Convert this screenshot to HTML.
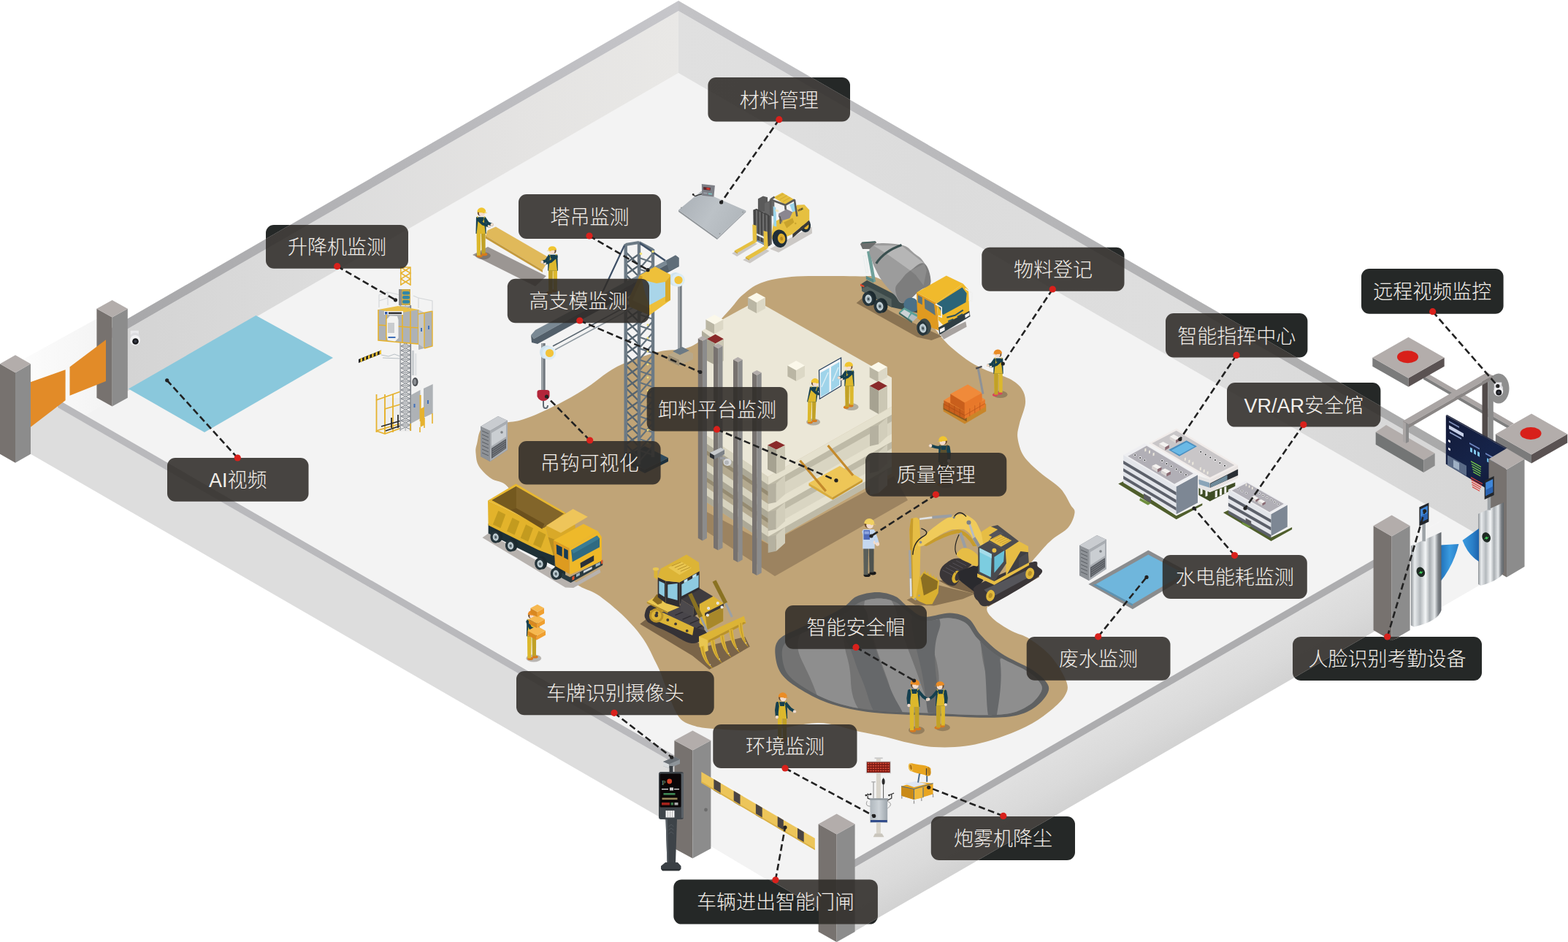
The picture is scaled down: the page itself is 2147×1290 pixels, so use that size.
<!DOCTYPE html>
<html lang="zh"><head><meta charset="utf-8"><title>智慧工地</title>
<style>html,body{margin:0;padding:0;background:#fff;}body{width:2147px;height:1290px;overflow:hidden;font-family:"Liberation Sans",sans-serif;}svg{display:block}</style>
</head><body>
<svg width="2147" height="1290" viewBox="0 0 2147 1290">
<defs>
<linearGradient id="gNW" gradientUnits="userSpaceOnUse" x1="175" y1="0" x2="929" y2="0"><stop offset="0" stop-color="#d4d4d4"/><stop offset="0.35" stop-color="#dcdcdc"/><stop offset="0.7" stop-color="#e4e3e2"/><stop offset="1" stop-color="#e9e8e6"/></linearGradient>
<linearGradient id="gNE" gradientUnits="userSpaceOnUse" x1="929" y1="0" x2="2040" y2="0"><stop offset="0" stop-color="#e0e0e0"/><stop offset="0.3" stop-color="#dcdcdc"/><stop offset="0.6" stop-color="#dedede"/><stop offset="1" stop-color="#d6d6d6"/></linearGradient>
<linearGradient id="gLG" gradientUnits="userSpaceOnUse" x1="30" y1="0" x2="140" y2="0"><stop offset="0" stop-color="#fcfcfc"/><stop offset="1" stop-color="#f4f4f4"/></linearGradient>
<linearGradient id="gRG" gradientUnits="userSpaceOnUse" x1="2010" y1="760" x2="2120" y2="800"><stop offset="0" stop-color="#f3f3f3"/><stop offset="1" stop-color="#ffffff"/></linearGradient>
<linearGradient id="gNWs" gradientUnits="userSpaceOnUse" x1="175" y1="0" x2="929" y2="0"><stop offset="0" stop-color="#a8a8aa"/><stop offset="0.5" stop-color="#b6b6b9"/><stop offset="1" stop-color="#c6c6ca"/></linearGradient>
<linearGradient id="gNEs" gradientUnits="userSpaceOnUse" x1="929" y1="0" x2="2040" y2="0"><stop offset="0" stop-color="#c3c3c6"/><stop offset="0.5" stop-color="#b4b4b6"/><stop offset="1" stop-color="#a8a8a8"/></linearGradient>
<linearGradient id="gScr" gradientUnits="userSpaceOnUse" x1="1980" y1="570" x2="2060" y2="670"><stop offset="0" stop-color="#131a38"/><stop offset="0.6" stop-color="#16244a"/><stop offset="1" stop-color="#101830"/></linearGradient>
<linearGradient id="gScale" gradientUnits="userSpaceOnUse" x1="930" y1="270" x2="1015" y2="320"><stop offset="0" stop-color="#aab0b6"/><stop offset="0.5" stop-color="#bcc2c7"/><stop offset="1" stop-color="#aeb4b9"/></linearGradient>
<linearGradient id="gEnv" gradientUnits="userSpaceOnUse" x1="1191" y1="0" x2="1216" y2="0"><stop offset="0" stop-color="#aeb6bc"/><stop offset="0.5" stop-color="#cdd3d8"/><stop offset="1" stop-color="#9aa2a9"/></linearGradient>
<linearGradient id="gSW" gradientUnits="objectBoundingBox" x1="0" y1="0" x2="0" y2="1"><stop offset="0" stop-color="#dadada"/><stop offset="1" stop-color="#e4e4e4"/></linearGradient>
<linearGradient id="gSE" gradientUnits="userSpaceOnUse" x1="1500" y1="997" x2="1538" y2="1063"><stop offset="0" stop-color="#e0e0e0"/><stop offset="0.55" stop-color="#dadada"/><stop offset="1" stop-color="#d2d2d2"/></linearGradient>
<linearGradient id="gT2024" gradientUnits="userSpaceOnUse" x1="2024" y1="0" x2="2059" y2="0"><stop offset="0" stop-color="#8d9296"/><stop offset="0.12" stop-color="#e9ecee"/><stop offset="0.3" stop-color="#b4b9bd"/><stop offset="0.48" stop-color="#f4f6f7"/><stop offset="0.62" stop-color="#a9aeb2"/><stop offset="0.78" stop-color="#e6e9eb"/><stop offset="0.9" stop-color="#7d8287"/><stop offset="1" stop-color="#5f6469"/></linearGradient>
<linearGradient id="gFan1" gradientUnits="userSpaceOnUse" x1="1972" y1="0" x2="1998" y2="0"><stop offset="0" stop-color="#1f6fb8"/><stop offset="0.5" stop-color="#3a9be0"/><stop offset="1" stop-color="#2a7fc8"/></linearGradient>
<linearGradient id="gFan2" gradientUnits="userSpaceOnUse" x1="2002" y1="0" x2="2026" y2="0"><stop offset="0" stop-color="#3a9be0"/><stop offset="0.6" stop-color="#2a7fc8"/><stop offset="1" stop-color="#1c5fa8"/></linearGradient>
<linearGradient id="gT1932" gradientUnits="userSpaceOnUse" x1="1932" y1="0" x2="1973.5" y2="0"><stop offset="0" stop-color="#8d9296"/><stop offset="0.12" stop-color="#e9ecee"/><stop offset="0.3" stop-color="#b4b9bd"/><stop offset="0.48" stop-color="#f4f6f7"/><stop offset="0.62" stop-color="#a9aeb2"/><stop offset="0.78" stop-color="#e6e9eb"/><stop offset="0.9" stop-color="#7d8287"/><stop offset="1" stop-color="#5f6469"/></linearGradient>
<clipPath id="siteclip"><polygon points="929.0,1.0 2147.0,704.2 2147.0,805.0 2075.0,850.0 1935.0,800.0 1930.0,867.0 1905.6,877.0 1880.0,867.0 1880.0,865.7 1171.0,1275.0 1145.6,1290.0 1121.0,1275.0 1121.0,1244.0 972.8,1158.0 972.8,1161.0 948.4,1175.0 923.3,1161.0 923.3,1130.5 42.0,621.7 21.0,633.5 0.0,621.0 0.0,498.0 21.0,486.0 42.0,499.0 42.0,523.0 132.0,470.0 132.0,423.0 153.6,411.0 175.0,422.0 175.0,436.3"/></clipPath>
<clipPath id="outclip"><path clip-rule="evenodd" d="M-10,-10H2160V1300H-10Z M929.0,1.0 L2147.0,704.2 L2147.0,805.0 L2075.0,850.0 L1935.0,800.0 L1930.0,867.0 L1905.6,877.0 L1880.0,867.0 L1880.0,865.7 L1171.0,1275.0 L1145.6,1290.0 L1121.0,1275.0 L1121.0,1244.0 L972.8,1158.0 L972.8,1161.0 L948.4,1175.0 L923.3,1161.0 L923.3,1130.5 L42.0,621.7 L21.0,633.5 L0.0,621.0 L0.0,498.0 L21.0,486.0 L42.0,499.0 L42.0,523.0 L132.0,470.0 L132.0,423.0 L153.6,411.0 L175.0,422.0 L175.0,436.3 Z"/></clipPath>
</defs>
<polygon points="132.4,436.4 30.0,493.0 42.0,535.0 79.0,546.9 116.3,568.4 175.0,535.3 132.4,545.0" fill="url(#gLG)" />
<polygon points="1930.0,738.1 2045.0,671.7 2045.0,790.4 1930.0,856.8" fill="#f3f3f3" />
<polygon points="929.0,100.0 1982.0,707.9 1170.4,1176.6 116.3,568.4" fill="#f3f3f3" />
<polygon points="948.0,1048.6 1170.4,1176.6 1146.0,1262.0 948.0,1143.7" fill="#f3f3f3" />
<polygon points="929.0,15.0 929.0,100.0 150.0,549.8 150.0,464.8" fill="url(#gNW)" />
<polygon points="929.0,15.0 929.0,100.0 2045.0,744.3 2045.0,659.3" fill="url(#gNE)" />
<polygon points="929.0,1.0 150.0,450.8 150.0,464.8 929.0,15.0" fill="url(#gNWs)" />
<polygon points="929.0,1.0 2060.0,654.0 2045.0,659.3 929.0,15.0" fill="url(#gNEs)" />
<polygon points="176.0,532.6 350.4,432.0 456.0,490.0 280.0,592.0" fill="#8ac8dc" />
<path d="M1001.8,421.0C1007.9,414.2 1010.0,409.6 1016.7,404.0C1023.4,398.4 1030.7,391.6 1041.9,387.4C1053.1,383.2 1067.4,380.6 1083.7,379.0C1100.0,377.4 1123.7,378.1 1139.5,378.0C1155.3,377.9 1168.5,378.2 1178.6,378.5C1188.7,378.8 1190.6,376.4 1200.0,380.0C1209.4,383.6 1224.2,391.7 1235.0,400.0C1245.8,408.3 1255.8,419.5 1265.0,430.0C1274.2,440.5 1283.0,454.6 1290.0,462.8C1297.0,471.1 1300.5,474.0 1307.0,479.5C1313.5,485.0 1321.6,491.4 1329.0,496.0C1336.4,500.6 1342.8,503.6 1351.6,507.4C1360.4,511.2 1374.1,514.4 1382.0,518.6C1389.9,522.8 1395.3,526.9 1399.0,532.5C1402.7,538.1 1404.5,544.1 1404.0,552.0C1403.5,559.9 1397.8,572.1 1396.0,580.0C1394.2,587.9 1392.4,592.1 1393.4,599.5C1394.4,606.9 1396.7,616.7 1401.8,624.6C1406.9,632.5 1415.6,639.6 1424.0,647.0C1432.4,654.4 1445.0,661.6 1452.0,669.0C1459.0,676.4 1462.8,686.1 1466.0,691.6C1469.2,697.1 1472.0,696.9 1471.5,702.0C1471.0,707.1 1468.1,715.9 1463.0,722.0C1457.9,728.1 1447.3,733.1 1441.0,738.6C1434.7,744.1 1432.7,746.4 1425.0,755.0C1417.3,763.6 1404.2,779.5 1395.0,790.0C1385.8,800.5 1377.2,811.0 1370.0,818.0C1362.8,825.0 1353.3,827.1 1351.6,832.0C1349.9,836.9 1354.4,842.1 1360.0,847.4C1365.6,852.7 1376.7,859.4 1385.0,864.0C1393.3,868.6 1400.8,869.0 1410.0,875.0C1419.2,881.0 1431.6,890.2 1440.0,900.0C1448.4,909.8 1457.5,925.1 1460.4,934.0C1463.3,942.9 1461.8,946.4 1457.6,953.4C1453.4,960.4 1443.8,968.8 1435.0,975.8C1426.2,982.8 1416.6,989.3 1404.6,995.3C1392.5,1001.3 1376.7,1007.6 1362.7,1012.0C1348.8,1016.4 1334.9,1020.0 1320.9,1021.8C1307.0,1023.6 1291.6,1023.7 1279.0,1023.0C1266.4,1022.3 1256.7,1019.9 1245.5,1017.6C1234.3,1015.3 1224.1,1011.8 1212.0,1009.0C1199.9,1006.2 1188.3,1004.1 1173.0,1000.9C1157.7,997.7 1140.5,990.1 1120.0,990.0C1099.5,989.9 1073.9,998.7 1050.0,1000.0C1026.1,1001.3 994.0,999.2 976.7,998.0C959.4,996.8 954.0,995.3 946.0,992.5C938.0,989.7 934.2,988.1 929.0,981.0C923.8,973.9 919.2,960.2 915.0,950.0C910.8,939.8 907.2,927.8 904.0,920.0C900.8,912.2 899.0,909.5 895.8,903.0C892.6,896.5 889.2,888.4 884.6,881.0C880.0,873.6 874.5,866.1 868.0,858.6C861.5,851.1 853.9,843.4 845.5,836.0C837.1,828.6 826.9,820.0 817.6,814.0C808.3,808.0 799.3,807.3 789.7,800.0C780.1,792.7 771.6,785.0 760.0,770.0C748.4,755.0 730.8,727.2 720.0,710.0C709.2,692.8 702.9,675.6 695.0,666.5C687.1,657.4 679.0,660.0 672.5,655.3C666.0,650.6 659.3,644.1 655.8,638.5C652.3,632.9 652.1,626.9 651.6,621.8C651.1,616.7 650.9,614.5 653.0,608.0C655.1,601.5 654.2,588.1 664.0,582.7C673.8,577.3 696.3,580.0 711.6,575.8C726.9,571.6 741.1,564.8 756.0,557.6C770.9,550.4 786.1,541.8 801.0,532.5C815.9,523.2 828.8,510.2 845.5,501.8C862.2,493.4 886.1,486.0 901.0,482.0C915.9,478.0 925.7,480.3 935.0,478.0C944.3,475.7 949.5,473.5 957.0,468.0C964.5,462.5 972.5,452.8 980.0,445.0C987.5,437.2 995.7,427.8 1001.8,421.0Z" fill="#c0a477" />
<path d="M1061.4,894.8C1060.9,886.9 1061.9,880.9 1067.0,875.3C1072.1,869.7 1081.5,866.4 1092.0,861.4C1102.5,856.4 1119.3,850.1 1130.0,845.0C1140.7,839.9 1148.8,835.4 1156.0,830.7C1163.2,826.0 1165.5,820.0 1173.0,816.7C1180.5,813.4 1192.2,811.0 1201.0,811.0C1209.8,811.0 1219.0,813.4 1226.0,816.7C1233.0,820.0 1236.2,826.1 1242.7,830.7C1249.2,835.4 1255.3,843.1 1265.0,844.6C1274.7,846.1 1290.8,839.1 1301.0,839.6C1311.2,840.1 1319.5,842.4 1326.5,847.4C1333.5,852.4 1335.6,861.8 1343.0,869.7C1350.4,877.6 1359.3,886.9 1371.0,894.8C1382.7,902.7 1402.8,910.5 1413.0,917.0C1423.2,923.5 1428.8,928.9 1432.5,934.0C1436.2,939.1 1437.3,942.3 1435.0,947.9C1432.7,953.5 1425.9,962.0 1418.5,967.4C1411.1,972.8 1402.2,977.5 1390.6,980.0C1379.0,982.5 1367.4,982.7 1348.8,982.7C1330.2,982.7 1304.6,981.1 1279.0,980.0C1253.4,978.9 1218.2,978.4 1195.0,975.8C1171.8,973.2 1155.7,969.7 1139.5,964.6C1123.3,959.5 1109.3,952.0 1097.7,945.0C1086.1,938.0 1075.8,931.1 1069.8,922.7C1063.8,914.3 1061.9,902.7 1061.4,894.8Z" fill="#5f6162" />
<clipPath id="pitclip"><path d="M1070.8,897.5C1070.4,890.2 1071.3,884.6 1076.2,879.4C1081.0,874.2 1089.9,871.1 1099.9,866.5C1109.9,861.8 1125.9,856.0 1136.0,851.2C1146.1,846.4 1153.9,842.3 1160.7,837.9C1167.5,833.5 1169.7,827.9 1176.8,824.9C1184.0,821.8 1195.1,819.6 1203.5,819.6C1211.8,819.6 1220.6,821.8 1227.2,824.9C1233.8,827.9 1236.9,833.6 1243.1,837.9C1249.2,842.2 1255.0,849.4 1264.2,850.8C1273.5,852.2 1288.7,845.7 1298.5,846.2C1308.2,846.6 1316.0,848.8 1322.7,853.4C1329.3,858.1 1331.3,866.8 1338.3,874.2C1345.4,881.5 1353.9,890.2 1365.0,897.5C1376.0,904.8 1395.1,912.1 1404.8,918.2C1414.6,924.2 1419.9,929.2 1423.4,934.0C1426.9,938.8 1428.0,941.7 1425.8,946.9C1423.5,952.1 1417.1,960.1 1410.1,965.0C1403.0,970.0 1394.6,974.4 1383.6,976.8C1372.5,979.1 1361.5,979.3 1343.9,979.3C1326.2,979.3 1301.9,977.8 1277.5,976.8C1253.2,975.7 1219.8,975.2 1197.8,972.8C1175.7,970.5 1160.4,967.2 1145.0,962.4C1129.6,957.7 1116.4,950.7 1105.3,944.2C1094.3,937.7 1084.6,931.2 1078.8,923.5C1073.1,915.7 1071.3,904.9 1070.8,897.5Z"/></clipPath>
<g clip-path="url(#pitclip)">
<rect x="1050.0" y="800.0" width="400.0" height="200.0" fill="#737373" />
<path d="M1095.0,870.0C1103.0,848.7 1122.7,842.0 1140.0,850.0C1157.3,858.0 1152.0,870.7 1160.0,900.0C1168.0,929.3 1162.0,937.3 1170.0,960.0C1178.0,982.7 1198.0,981.0 1190.0,985.0C1182.0,989.0 1161.3,989.7 1140.0,975.0C1118.7,960.3 1122.0,958.0 1110.0,930.0C1098.0,902.0 1087.0,891.3 1095.0,870.0Z" fill="#8e8e8e" />
<path d="M1185.0,820.0C1190.3,805.3 1200.3,799.0 1215.0,815.0C1229.7,831.0 1227.5,846.7 1240.0,880.0C1252.5,913.3 1252.7,912.0 1262.0,940.0C1271.3,968.0 1282.2,973.0 1275.0,985.0C1267.8,997.0 1251.0,999.7 1235.0,985.0C1219.0,970.3 1225.7,960.7 1215.0,930.0C1204.3,899.3 1203.0,899.3 1195.0,870.0C1187.0,840.7 1179.7,834.7 1185.0,820.0Z" fill="#8e8e8e" />
<path d="M1290.0,845.0C1306.0,839.7 1320.3,835.3 1335.0,850.0C1349.7,864.7 1339.7,864.0 1345.0,900.0C1350.3,936.0 1369.7,962.3 1355.0,985.0C1340.3,1007.7 1308.7,1002.3 1290.0,985.0C1271.3,967.7 1289.0,950.7 1285.0,920.0C1281.0,889.3 1273.7,890.0 1275.0,870.0C1276.3,850.0 1274.0,850.3 1290.0,845.0Z" fill="#8e8e8e" />
<path d="M1375.0,900.0C1389.7,896.0 1402.7,911.7 1420.0,925.0C1437.3,938.3 1442.7,936.7 1440.0,950.0C1437.3,963.3 1428.7,965.7 1410.0,975.0C1391.3,984.3 1382.0,994.3 1370.0,985.0C1358.0,975.7 1363.7,962.7 1365.0,940.0C1366.3,917.3 1360.3,904.0 1375.0,900.0Z" fill="#8e8e8e" />
<path d="M1150.0,850.0C1154.0,834.0 1167.7,822.0 1180.0,830.0C1192.3,838.0 1185.9,850.7 1196.0,880.0C1206.1,909.3 1207.3,912.0 1218.0,940.0C1228.7,968.0 1239.5,973.0 1236.0,985.0C1232.5,997.0 1219.9,999.7 1205.0,985.0C1190.1,970.3 1190.7,955.3 1180.0,930.0C1169.3,904.7 1173.0,911.3 1165.0,890.0C1157.0,868.7 1146.0,866.0 1150.0,850.0Z" fill="#66686a" />
<path d="M1250.0,840.0C1255.6,817.3 1277.0,829.0 1285.0,845.0C1293.0,861.0 1279.2,862.7 1280.0,900.0C1280.8,937.3 1289.6,962.3 1288.0,985.0C1286.4,1007.7 1280.4,999.7 1274.0,985.0C1267.6,970.3 1270.4,968.7 1264.0,930.0C1257.6,891.3 1244.4,862.7 1250.0,840.0Z" fill="#66686a" />
<path d="M1340.0,860.0C1345.3,856.0 1361.6,861.7 1368.0,895.0C1374.4,928.3 1367.7,961.0 1364.0,985.0C1360.3,1009.0 1358.3,1005.0 1354.0,985.0C1349.7,965.0 1351.7,943.3 1348.0,910.0C1344.3,876.7 1334.7,864.0 1340.0,860.0Z" fill="#66686a" />
</g>
<polygon points="1883.7,591.8 1898.0,582.0 1964.7,620.8 1949.3,630.0" fill="#b3adab" />
<polygon points="1883.7,591.8 1949.3,630.0 1949.3,647.0 1883.7,608.8" fill="#737575" />
<polygon points="1949.3,630.0 1964.7,620.8 1964.7,637.8 1949.3,647.0" fill="#8c8c8c" />
<polygon points="1949.0,515.0 1955.0,511.5 2073.0,580.0 2067.0,583.5" fill="#aaa5a4" />
<polygon points="1949.0,515.0 2067.0,583.5 2067.0,588.0 1949.0,519.5" fill="#7e7e7e" />
<polygon points="1879.3,489.7 1928.5,517.7 1928.5,529.7 1879.3,501.7" fill="#7b7b7b" />
<polygon points="1977.7,489.7 1928.5,517.7 1928.5,529.7 1977.7,501.7" fill="#5a5252" />
<polygon points="1928.5,461.7 1977.7,489.7 1928.5,517.7 1879.3,489.7" fill="#b3adab" />
<ellipse cx="1927.5" cy="488.7" rx="14.5" ry="8.5" fill="#d8201a" />
<rect x="2029.5" y="514.0" width="7.7" height="130.0" fill="#524b4a" />
<rect x="2037.2" y="514.0" width="7.6" height="130.0" fill="#8b8b8b" />
<ellipse cx="2052.0" cy="532.0" rx="14.5" ry="20.5" fill="#8e8e8e" />
<polygon points="2029.0,514.0 2036.0,510.0 2044.0,514.5 1929.0,581.0 1921.0,576.5" fill="#aaa5a4" />
<polygon points="1921.0,576.5 1929.0,581.0 2044.0,514.5 2044.0,519.0 1929.0,586.0 1921.0,581.0" fill="#8a8685" />
<polygon points="1921.0,577.0 1925.0,579.5 1925.0,607.0 1921.0,604.5" fill="#a9a5a4" />
<polygon points="1925.0,579.5 1929.0,581.5 1929.0,605.0 1925.0,607.0" fill="#8a8a8a" />
<rect x="2045.8" y="523.6" width="10.4" height="5.9" fill="#e9e9ec" />
<ellipse cx="2051.7" cy="531.5" rx="6.2" ry="5.2" fill="#dcdce0" />
<circle cx="2051.7" cy="536.0" r="6.5" fill="#f2f2f4" />
<circle cx="2052.2" cy="537.5" r="4.0" fill="#17181c" />
<circle cx="2052.2" cy="537.5" r="1.8" fill="#3a3d48" />
<polygon points="2047.8,594.5 2097.0,622.5 2097.0,634.5 2047.8,606.5" fill="#7b7b7b" />
<polygon points="2146.2,594.5 2097.0,622.5 2097.0,634.5 2146.2,606.5" fill="#5a5252" />
<polygon points="2097.0,566.5 2146.2,594.5 2097.0,622.5 2047.8,594.5" fill="#b3adab" />
<ellipse cx="2096.0" cy="593.5" rx="14.5" ry="8.5" fill="#d8201a" />
<polygon points="1979.8,568.8 2062.0,614.5 2062.0,685.0 1979.8,635.6" fill="url(#gScr)" />
<polygon points="1979.8,568.8 1981.5,568.0 2063.5,613.5 2062.0,614.5" fill="#2a2f45" />
<polygon points="1984.0,576.3 1998.0,584.1 1998.0,586.1 1984.0,578.3" fill="#7e8db8" />
<polygon points="1984.0,582.3 2004.0,593.5 2004.0,598.5 1984.0,587.3" fill="#c9d2ea" />
<polygon points="1985.0,590.9 2001.0,599.8 2001.0,601.8 1985.0,592.9" fill="#8fa0c8" />
<polygon points="1983.0,601.8 1986.0,603.4 1986.0,606.4 1983.0,604.8" fill="#e8e8f0" />
<polygon points="1983.0,612.8 1986.0,614.4 1986.0,617.4 1983.0,615.8" fill="#e8e8f0" />
<polygon points="1982.0,623.2 2008.0,637.7 2008.0,651.7 1982.0,637.2" fill="#5a6a86" />
<polygon points="1990.0,629.7 1998.0,634.1 1998.0,644.1 1990.0,639.7" fill="#9fb0c4" />
<polygon points="2012.0,605.9 2026.0,613.7 2026.0,615.7 2012.0,607.9" fill="#6f86c0" />
<polygon points="2013.0,612.5 2016.0,614.1 2016.0,620.1 2013.0,618.5" fill="#7fc4e8" />
<polygon points="2018.0,615.2 2021.0,616.9 2021.0,622.9 2018.0,621.2" fill="#7fc4e8" />
<polygon points="2023.0,618.0 2026.0,619.7 2026.0,625.7 2023.0,624.0" fill="#7fc4e8" />
<polygon points="2034.0,620.1 2046.0,626.8 2046.0,628.8 2034.0,622.1" fill="#6f86c0" />
<polygon points="2036.0,627.2 2038.5,628.6 2038.5,633.6 2036.0,632.2" fill="#66b8e8" />
<polygon points="2041.0,630.0 2043.5,631.4 2043.5,636.4 2041.0,635.0" fill="#66b8e8" />
<polygon points="2014.0,631.0 2028.0,638.8 2028.0,640.2 2014.0,632.4" fill="#7bd24a" />
<polygon points="2014.8,634.7 2027.8,641.9 2027.8,643.3 2014.8,636.1" fill="#7bd24a" />
<polygon points="2015.6,638.3 2027.6,645.0 2027.6,646.4 2015.6,639.7" fill="#7bd24a" />
<polygon points="2016.4,641.9 2027.4,648.1 2027.4,649.5 2016.4,643.3" fill="#7bd24a" />
<polygon points="2017.2,645.6 2027.2,651.2 2027.2,652.6 2017.2,647.0" fill="#7bd24a" />
<polygon points="2014.0,653.0 2030.0,661.9 2030.0,663.3 2014.0,654.4" fill="#e0403a" />
<polygon points="2014.5,656.3 2029.0,664.4 2029.0,665.8 2014.5,657.7" fill="#e0403a" />
<polygon points="2015.0,659.6 2028.0,666.8 2028.0,668.2 2015.0,661.0" fill="#e0403a" />
<polygon points="2015.5,662.8 2027.0,669.2 2027.0,670.6 2015.5,664.2" fill="#e0403a" />
<polygon points="2016.0,666.1 2026.0,671.7 2026.0,673.1 2016.0,667.5" fill="#e0403a" />
<polygon points="2040.0,645.5 2050.0,651.0 2050.0,653.0 2040.0,647.5" fill="#6f86c0" />
<polygon points="2040.0,659.5 2048.0,663.9 2048.0,665.9 2040.0,661.5" fill="#6f86c0" />
<polygon points="2046.0,676.8 2054.0,681.3 2054.0,683.3 2046.0,678.8" fill="#6f86c0" />
<polygon points="929.1,287.4 982.0,325.7 982.0,327.9 929.1,289.9" fill="#8f9498" />
<polygon points="982.0,325.7 1021.3,288.4 1021.3,290.4 982.0,327.9" fill="#a0a5aa" />
<polygon points="929.1,287.4 960.3,261.7 1021.3,288.4 982.0,325.7" fill="url(#gScale)" />
<path d="M949.2,265.7Q950.2,270.2 955.3,267.2L961.3,265.7" fill="none" stroke="#2a2a2a" stroke-width="1.2"/>
<circle cx="949.2" cy="266.4" r="1.4" fill="#2a2a2a" />
<polygon points="960.8,252.1 978.9,254.1 977.4,269.4 961.3,267.7" fill="#7d7f86" />
<polygon points="963.1,256.1 972.9,257.1 972.7,260.7 963.1,259.8" fill="#5a2a30" />
<polygon points="967.4,257.1 971.9,257.6 971.8,260.0 967.4,259.5" fill="#d0382e" />
<polygon points="963.3,263.2 968.4,263.8 968.4,265.7 963.3,265.2" fill="#9aa0a8" />
<polygon points="969.9,264.2 974.9,264.8 974.9,266.7 969.9,266.2" fill="#7ec0c0" />
<circle cx="932.9" cy="284.3" r="0.9" fill="#8f9498" />
<circle cx="1017.2" cy="290.4" r="0.9" fill="#8f9498" />
<circle cx="985.5" cy="320.1" r="0.9" fill="#8f9498" />
<polygon points="1002.1,347.0 1030.8,330.7 1036.9,333.9 1009.2,351.3" fill="#cbc8c5" />
<polygon points="1017.2,355.9 1046.0,339.8 1053.5,343.8 1026.8,360.4" fill="#cbc8c5" />
<polygon points="1054.0,340.8 1111.5,310.5 1112.0,319.6 1066.1,345.8" fill="#cbc8c5" />
<ellipse cx="1102.4" cy="308.5" rx="7.6" ry="9.7" fill="#1f2e38"  transform="rotate(-8 1102.4 308.5)"/>
<ellipse cx="1103.4" cy="308.5" rx="4.0" ry="5.5" fill="#e0b030"  transform="rotate(-8 1103.4 308.5)"/>
<polygon points="1037.9,272.2 1044.9,268.4 1051.0,270.2 1051.0,292.4 1037.9,287.4" fill="#5a5a5a" />
<polygon points="1047.0,278.3 1055.0,274.3 1060.3,276.5 1060.3,296.4 1047.0,292.4" fill="#666666" />
<polygon points="1031.3,287.4 1035.9,285.8 1054.5,294.9 1055.2,335.7 1051.0,337.9 1031.9,327.9" fill="#454545" />
<polygon points="1034.9,287.4 1037.1,288.4 1037.4,330.7 1035.2,329.2" fill="#6e6e6e" />
<polygon points="1039.4,289.6 1041.6,290.6 1041.9,332.9 1039.7,331.4" fill="#6e6e6e" />
<polygon points="1043.9,291.8 1046.2,292.8 1046.5,335.1 1044.2,333.6" fill="#6e6e6e" />
<polygon points="1048.5,294.0 1050.7,295.0 1051.0,337.3 1048.8,335.8" fill="#6e6e6e" />
<polygon points="1035.9,319.6 1046.0,324.1 1046.0,326.7 1035.9,322.1" fill="#e8eef2" />
<polygon points="1036.9,328.7 1046.0,332.7 1046.0,334.7 1036.9,330.7" fill="#7ea0c8" />
<polygon points="1005.7,343.3 1030.8,329.2 1036.1,331.2 1009.9,346.0" fill="#e6c040" />
<polygon points="1005.7,343.3 1009.9,346.0 1009.9,347.4 1005.7,344.8" fill="#c9a32c" />
<polygon points="1030.3,307.5 1035.6,308.7 1036.1,331.2 1030.8,329.5" fill="#e6c040" />
<polygon points="1020.8,351.9 1046.0,337.2 1051.7,339.8 1026.0,355.1" fill="#e6c040" />
<polygon points="1020.8,351.9 1026.0,355.1 1026.0,356.5 1020.8,353.4" fill="#c9a32c" />
<polygon points="1045.5,316.1 1050.7,317.6 1051.7,339.8 1046.0,337.2" fill="#e6c040" />
<polygon points="1059.1,304.5 1085.3,290.4 1091.3,280.8 1101.4,280.3 1108.2,287.4 1108.2,301.5 1085.3,320.6 1061.1,331.2 1056.0,325.7" fill="#e6c040" />
<polygon points="1085.3,320.6 1108.2,301.5 1108.2,306.5 1091.3,320.6 1085.3,325.7" fill="#3a3a3a" />
<polygon points="1073.2,304.5 1085.3,298.4 1087.3,304.5 1077.2,312.6" fill="#c9a32c" />
<polygon points="1066.1,292.4 1077.2,286.4 1085.3,290.4 1081.2,298.9 1071.1,302.0" fill="#8a8690" />
<polygon points="1066.1,292.4 1071.1,302.0 1071.1,305.5 1066.1,296.4" fill="#6a6670" />
<polygon points="1058.6,282.3 1062.3,284.3 1063.3,310.5 1059.3,309.5" fill="#9ad4ea" />
<polygon points="1081.2,280.3 1089.3,277.3 1090.3,288.4 1085.3,290.4" fill="#9ad4ea" />
<polygon points="1059.1,270.2 1071.1,263.7 1087.5,273.3 1075.2,280.5" fill="#e6c040" />
<line x1="1063.1" y1="270.7" x2="1073.2" y2="265.2" stroke="#c9a32c" stroke-width="0.8" />
<line x1="1067.6" y1="273.4" x2="1077.7" y2="267.8" stroke="#c9a32c" stroke-width="0.8" />
<line x1="1072.2" y1="276.0" x2="1082.2" y2="270.4" stroke="#c9a32c" stroke-width="0.8" />
<path d="M1055.0,273.3L1055.5,334.7M1055.0,273.3L1060.6,269.7M1075.2,280.3L1075.7,287.4M1087.8,273.3L1091.3,296.4M1055.0,273.3L1075.2,280.8L1088.1,273.5" fill="none" stroke="#5a5a5a" stroke-width="2.6"/>
<polygon points="1061.6,286.4 1066.1,287.4 1066.1,290.4 1061.6,289.6" fill="#f0e6c0" />
<line x1="1068.1" y1="296.4" x2="1068.6" y2="306.5" stroke="#5a5a5a" stroke-width="2" />
<circle cx="1089.3" cy="306.0" r="1.2" fill="#c9a32c" />
<text x="1093.3" y="289.9" font-size="4.5" font-weight="bold" fill="#222" transform="rotate(-25 1093.3 289.9)" style="font-family:'Liberation Sans',sans-serif">HW</text>
<ellipse cx="1067.6" cy="326.7" rx="10.1" ry="12.3" fill="#1f2e38"  transform="rotate(-8 1067.6 326.7)"/>
<ellipse cx="1070.1" cy="326.7" rx="5.2" ry="6.9" fill="#e0b030"  transform="rotate(-8 1070.1 326.7)"/>
<ellipse cx="1070.1" cy="326.7" rx="2.0" ry="2.8" fill="#b88a20"  transform="rotate(-8 1070.1 326.7)"/>
<rect x="515.0" y="545.0" width="48.0" height="46.0" fill="#e9e9e9" fill-opacity="0.55"/>
<rect x="514.6" y="540.0" width="1.8" height="52.0" fill="#e6b22e" />
<rect x="526.1" y="540.0" width="1.8" height="52.0" fill="#e6b22e" />
<rect x="537.1" y="540.0" width="1.8" height="52.0" fill="#e6b22e" />
<rect x="548.1" y="528.0" width="1.8" height="62.0" fill="#e6b22e" />
<rect x="560.1" y="528.0" width="1.8" height="62.0" fill="#e6b22e" />
<path d="M515,548 L549,536 M515,590 L549,580 M527,560 L561,550 M549,536 L563,542 M515,590 L527,594 L561,582 M527,594 V560" fill="none" stroke="#e6b22e" stroke-width="1.8"/>
<path d="M522,584 l34,-10 M528,590 l32,-11 M545,568 v18 M536,572 v14 M553,566 v16" fill="none" stroke="#2a2a2a" stroke-width="1.8"/>
<rect x="548.0" y="418.0" width="14.7" height="172.0" fill="#ececec" />
<path d="M548.5,420 h13.5 M548.5,420 l13.5,6 M562,420 l-13.5,6 M548.5,426 h13.5 M548.5,426 l13.5,6 M562,426 l-13.5,6 M548.5,432 h13.5 M548.5,432 l13.5,6 M562,432 l-13.5,6 M548.5,438 h13.5 M548.5,438 l13.5,6 M562,438 l-13.5,6 M548.5,444 h13.5 M548.5,444 l13.5,6 M562,444 l-13.5,6 M548.5,450 h13.5 M548.5,450 l13.5,6 M562,450 l-13.5,6 M548.5,456 h13.5 M548.5,456 l13.5,6 M562,456 l-13.5,6 M548.5,462 h13.5 M548.5,462 l13.5,6 M562,462 l-13.5,6 M548.5,468 h13.5 M548.5,468 l13.5,6 M562,468 l-13.5,6 M548.5,474 h13.5 M548.5,474 l13.5,6 M562,474 l-13.5,6 M548.5,480 h13.5 M548.5,480 l13.5,6 M562,480 l-13.5,6 M548.5,486 h13.5 M548.5,486 l13.5,6 M562,486 l-13.5,6 M548.5,492 h13.5 M548.5,492 l13.5,6 M562,492 l-13.5,6 M548.5,498 h13.5 M548.5,498 l13.5,6 M562,498 l-13.5,6 M548.5,504 h13.5 M548.5,504 l13.5,6 M562,504 l-13.5,6 M548.5,510 h13.5 M548.5,510 l13.5,6 M562,510 l-13.5,6 M548.5,516 h13.5 M548.5,516 l13.5,6 M562,516 l-13.5,6 M548.5,522 h13.5 M548.5,522 l13.5,6 M562,522 l-13.5,6 M548.5,528 h13.5 M548.5,528 l13.5,6 M562,528 l-13.5,6 M548.5,534 h13.5 M548.5,534 l13.5,6 M562,534 l-13.5,6 M548.5,540 h13.5 M548.5,540 l13.5,6 M562,540 l-13.5,6 M548.5,546 h13.5 M548.5,546 l13.5,6 M562,546 l-13.5,6 M548.5,552 h13.5 M548.5,552 l13.5,6 M562,552 l-13.5,6 M548.5,558 h13.5 M548.5,558 l13.5,6 M562,558 l-13.5,6 M548.5,564 h13.5 M548.5,564 l13.5,6 M562,564 l-13.5,6 M548.5,570 h13.5 M548.5,570 l13.5,6 M562,570 l-13.5,6 M548.5,576 h13.5 M548.5,576 l13.5,6 M562,576 l-13.5,6 M548.5,582 h13.5 M548.5,582 l13.5,6 M562,582 l-13.5,6 " fill="none" stroke="#858a90" stroke-width="1"/>
<rect x="547.3" y="418.0" width="1.8" height="172.0" fill="#a5a9ad" />
<rect x="561.3" y="418.0" width="1.8" height="172.0" fill="#7f848a" />
<rect x="554.5" y="418.0" width="1.4" height="172.0" fill="#b8bbbe" />
<rect x="564.0" y="480.0" width="3.0" height="34.0" fill="#c9cdd0" />
<rect x="568.0" y="484.0" width="2.5" height="30.0" fill="#dfe2e4" />
<ellipse cx="568.5" cy="523.0" rx="4.0" ry="6.0" fill="#4a4d52" />
<ellipse cx="568.0" cy="523.0" rx="2.2" ry="4.0" fill="#8a8d92" />
<polygon points="562.7,541.0 575.5,534.0 575.5,573.0 562.7,580.0" fill="#aeb2b6" />
<polygon points="580.0,532.0 592.7,526.0 592.7,566.0 580.0,572.0" fill="#aeb2b6" />
<rect x="574.6" y="541.0" width="2.0" height="36.0" fill="#e6b22e" />
<polygon points="575.5,560.0 581.0,557.0 581.0,582.0 575.5,585.0" fill="#e6b22e" />
<rect x="566.5" y="553.0" width="2.0" height="5.0" fill="#3f6fb8" />
<rect x="585.0" y="548.0" width="2.0" height="5.0" fill="#3f6fb8" />
<rect x="561.2" y="580.0" width="1.6" height="10.0" fill="#e6b22e" />
<rect x="574.2" y="585.0" width="1.6" height="7.0" fill="#e6b22e" />
<rect x="580.2" y="572.0" width="1.6" height="14.0" fill="#e6b22e" />
<rect x="591.2" y="566.0" width="1.6" height="14.0" fill="#e6b22e" />
<polygon points="491.0,492.0 522.0,479.5 522.0,484.5 491.0,497.0" fill="#222" />
<polygon points="493.6,491.0 496.0,490.0 496.0,495.0 493.6,496.0" fill="#f0c531" />
<polygon points="498.8,488.9 501.2,487.9 501.2,492.9 498.8,493.9" fill="#f0c531" />
<polygon points="504.0,486.8 506.4,485.8 506.4,490.8 504.0,491.8" fill="#f0c531" />
<polygon points="509.2,484.7 511.6,483.7 511.6,488.7 509.2,489.7" fill="#f0c531" />
<polygon points="514.4,482.6 516.8,481.6 516.8,486.6 514.4,487.6" fill="#f0c531" />
<polygon points="519.6,480.5 522.0,479.5 522.0,484.5 519.6,485.5" fill="#f0c531" />
<path d="M522,486 l10,2 l8,-3 l8,3 M524,490 l24,1" fill="none" stroke="#b9c0c6" stroke-width="1"/>
<polygon points="518.0,424.0 573.0,424.0 573.0,471.0 518.0,466.0" fill="#aeb2b6" />
<polygon points="518.0,424.0 545.0,419.0 573.0,424.0 546.0,429.0" fill="#e9c04a" />
<path d="M518,424 V466 L573,471 V424 M529,425 V467 M551,427 V469 M562,426 V470 M518,445 L573,449" fill="none" stroke="#e6b22e" stroke-width="1.6"/>
<polygon points="529.7,437.0 534.0,432.5 544.0,433.0 545.5,438.0 545.5,463.0 541.0,467.4 531.0,466.0 529.7,461.0" fill="#f3f3f1" />
<rect x="531.0" y="442.0" width="9.0" height="14.0" fill="#c9ccce" />
<rect x="531.5" y="461.0" width="10.0" height="2.0" fill="#3f6fb8" />
<rect x="526.0" y="426.0" width="26.0" height="5.0" fill="#f5f5f5" />
<rect x="527.0" y="427.0" width="3.5" height="3.5" fill="#2f57a6" />
<rect x="532.0" y="427.5" width="18.0" height="2.6" fill="#333" />
<polygon points="573.0,430.0 592.0,426.0 592.0,474.0 573.0,479.0" fill="#aeb2b6" />
<polygon points="573.0,424.0 581.0,428.0 581.0,477.0 573.0,471.0" fill="#c5c8cb" />
<path d="M573,430 L592,426 V474 L581,477 M581,428 V477 M592,426 V474" fill="none" stroke="#e6b22e" stroke-width="1.4"/>
<rect x="576.0" y="449.0" width="2.0" height="5.0" fill="#3f6fb8" />
<rect x="586.0" y="446.0" width="2.0" height="5.0" fill="#3f6fb8" />
<path d="M519,421 V404 L531,400 M531,400 V418 M519,404 L531,400 L548,404 M573,422 V408 L592,412 V426 M573,408 L566,405 M519,412 L531,408" fill="none" stroke="#d5d8da" stroke-width="1.2"/>
<rect x="546.0" y="396.0" width="16.0" height="22.0" fill="#c9a94a" />
<rect x="551.0" y="399.0" width="10.0" height="4.5" fill="#2f86a8" rx="2"/>
<rect x="551.0" y="405.0" width="10.0" height="4.5" fill="#2f86a8" rx="2"/>
<rect x="551.0" y="411.0" width="10.0" height="4.5" fill="#2f86a8" rx="2"/>
<rect x="546.0" y="396.0" width="4.0" height="22.0" fill="#8c8f92" />
<path d="M548.8,391 V366 H562 V391 M548.8,366 L562,374 L548.8,382 L562,390 M562,366 L548.8,374 L562,382 L548.8,390" fill="none" stroke="#e6b22e" stroke-width="1.5"/>
<polygon points="1641.4,667.7 1656.7,673.9 1691.3,660.7 1691.3,668.4 1656.7,686.5 1641.4,678.1" fill="#3f4d25" />
<polygon points="1643.5,667.7 1646.6,666.6 1646.6,676.3 1643.5,677.4" fill="#f1f1ef" />
<polygon points="1650.5,670.5 1653.5,669.3 1653.5,679.1 1650.5,680.2" fill="#f1f1ef" />
<polygon points="1663.7,672.6 1666.8,671.4 1666.8,680.5 1663.7,681.6" fill="#f1f1ef" />
<polygon points="1670.0,669.8 1673.1,668.6 1673.1,677.7 1670.0,678.8" fill="#f1f1ef" />
<polygon points="1676.3,667.0 1679.3,665.9 1679.3,674.9 1676.3,676.0" fill="#f1f1ef" />
<polygon points="1640.0,651.6 1656.7,656.5 1656.7,673.9 1641.4,668.4" fill="#e6e4e4" />
<polygon points="1641.4,656.5 1656.0,661.0 1656.0,667.7 1641.7,663.2" fill="#8aa4b8" />
<polygon points="1656.7,656.5 1695.1,637.0 1695.1,654.4 1656.7,673.9" fill="#e9e4e2" />
<polygon points="1656.7,662.1 1695.1,642.6 1695.1,650.9 1656.7,667.9" fill="#2a2e34" />
<polygon points="1657.4,662.4 1680.5,650.6 1680.5,657.2 1657.4,667.7" fill="#6f8a9a" />
<polygon points="1573.0,607.0 1610.7,586.7 1695.1,637.0 1656.7,656.8" fill="#f1ecea" />
<polygon points="1577.5,607.0 1610.7,589.8 1690.2,637.0 1656.7,653.7" fill="#c9c6c8" />
<polygon points="1600.2,616.0 1624.6,603.2 1638.9,611.3 1614.9,624.7" fill="#4a8fc0" />
<polygon points="1603.7,616.7 1624.6,605.6 1635.8,611.6 1615.2,622.7" fill="#6ab9e6" />
<polygon points="1587.0,607.7 1592.6,604.9 1600.9,609.3 1595.3,612.6" fill="#f4f2f0" />
<polygon points="1587.0,607.7 1595.3,612.6 1595.3,616.7 1587.0,611.6" fill="#d9d4d2" />
<polygon points="1595.3,612.6 1600.9,609.3 1600.9,613.3 1595.3,616.7" fill="#8a6a72" />
<polygon points="1601.6,597.9 1607.2,595.1 1615.6,599.6 1610.0,602.8" fill="#f4f2f0" />
<polygon points="1601.6,597.9 1610.0,602.8 1610.0,607.0 1601.6,601.8" fill="#d9d4d2" />
<polygon points="1610.0,602.8 1615.6,599.6 1615.6,603.5 1610.0,607.0" fill="#8a6a72" />
<circle cx="1644.2" cy="618.8" r="1.8" fill="#f4f4f4" />
<circle cx="1644.2" cy="618.8" r="1.0" fill="#2a2a2e" />
<circle cx="1650.7" cy="622.6" r="1.8" fill="#f4f4f4" />
<circle cx="1650.7" cy="622.6" r="1.0" fill="#2a2a2e" />
<circle cx="1657.3" cy="626.4" r="1.8" fill="#f4f4f4" />
<circle cx="1657.3" cy="626.4" r="1.0" fill="#2a2a2e" />
<circle cx="1663.9" cy="630.1" r="1.8" fill="#f4f4f4" />
<circle cx="1663.9" cy="630.1" r="1.0" fill="#2a2a2e" />
<circle cx="1670.4" cy="633.9" r="1.8" fill="#f4f4f4" />
<circle cx="1670.4" cy="633.9" r="1.0" fill="#2a2a2e" />
<circle cx="1677.0" cy="637.7" r="1.8" fill="#f4f4f4" />
<circle cx="1677.0" cy="637.7" r="1.0" fill="#2a2a2e" />
<polygon points="1621.9,627.2 1623.8,626.4 1623.8,630.3 1621.9,631.1" fill="#eeeade" />
<polygon points="1627.4,630.3 1629.4,629.4 1629.4,633.3 1627.4,634.2" fill="#eeeade" />
<polygon points="1632.3,633.1 1634.3,632.2 1634.3,636.1 1632.3,637.0" fill="#eeeade" />
<polygon points="1642.8,640.5 1644.7,639.6 1644.7,643.5 1642.8,644.4" fill="#eeeade" />
<polygon points="1647.7,643.3 1649.6,642.4 1649.6,646.3 1647.7,647.2" fill="#eeeade" />
<polygon points="1652.6,646.0 1654.5,645.2 1654.5,649.1 1652.6,649.9" fill="#eeeade" />
<polygon points="1531.2,662.4 1538.1,659.3 1610.7,706.3 1646.3,689.3 1646.3,692.1 1610.7,711.2" fill="#4f5e2c" />
<polygon points="1538.1,623.0 1610.7,666.3 1610.7,704.2 1538.1,661.0" fill="#e3e5ea" />
<polygon points="1538.1,630.7 1610.7,673.9 1610.7,678.4 1538.1,635.2" fill="#5c606a" />
<polygon points="1538.1,641.2 1610.7,684.4 1610.7,688.9 1538.1,645.6" fill="#5c606a" />
<polygon points="1538.1,651.6 1610.7,694.9 1610.7,699.3 1538.1,656.1" fill="#5c606a" />
<polygon points="1610.7,666.3 1640.0,650.2 1640.0,688.6 1610.7,704.2" fill="#7d8794" />
<polygon points="1538.1,623.0 1567.4,607.0 1640.0,650.2 1610.7,666.3" fill="#eeeef1" />
<polygon points="1544.3,624.7 1570.0,610.5 1633.9,648.6 1608.1,662.7" fill="#b1afb6" />
<polygon points="1577.2,638.1 1582.8,635.6 1590.5,639.8 1584.9,642.6" fill="#f4f2f0" />
<polygon points="1577.2,638.1 1584.9,642.6 1584.9,646.7 1577.2,642.0" fill="#d9d4d2" />
<polygon points="1584.9,642.6 1590.5,639.8 1590.5,643.7 1584.9,646.7" fill="#8a6a72" />
<polygon points="1589.8,644.0 1595.3,641.4 1603.0,645.6 1597.4,648.4" fill="#f4f2f0" />
<polygon points="1589.8,644.0 1597.4,648.4 1597.4,652.6 1589.8,647.9" fill="#d9d4d2" />
<polygon points="1597.4,648.4 1603.0,645.6 1603.0,649.5 1597.4,652.6" fill="#8a6a72" />
<circle cx="1554.2" cy="623.3" r="1.8" fill="#f4f4f4" />
<circle cx="1554.2" cy="623.3" r="1.0" fill="#2a2a2e" />
<circle cx="1561.2" cy="626.9" r="1.8" fill="#f4f4f4" />
<circle cx="1561.2" cy="626.9" r="1.0" fill="#2a2a2e" />
<circle cx="1567.4" cy="630.3" r="1.8" fill="#f4f4f4" />
<circle cx="1567.4" cy="630.3" r="1.0" fill="#2a2a2e" />
<circle cx="1591.2" cy="631.1" r="1.8" fill="#f4f4f4" />
<circle cx="1591.2" cy="631.1" r="1.0" fill="#2a2a2e" />
<circle cx="1597.4" cy="634.9" r="1.8" fill="#f4f4f4" />
<circle cx="1597.4" cy="634.9" r="1.0" fill="#2a2a2e" />
<circle cx="1603.7" cy="638.6" r="1.8" fill="#f4f4f4" />
<circle cx="1603.7" cy="638.6" r="1.0" fill="#2a2a2e" />
<circle cx="1610.7" cy="642.6" r="1.8" fill="#f4f4f4" />
<circle cx="1610.7" cy="642.6" r="1.0" fill="#2a2a2e" />
<circle cx="1617.0" cy="646.5" r="1.8" fill="#f4f4f4" />
<circle cx="1617.0" cy="646.5" r="1.0" fill="#2a2a2e" />
<circle cx="1623.9" cy="650.2" r="1.8" fill="#f4f4f4" />
<circle cx="1623.9" cy="650.2" r="1.0" fill="#2a2a2e" />
<polygon points="1567.4,614.6 1569.4,613.8 1569.4,617.7 1567.4,618.6" fill="#eeeade" />
<polygon points="1573.0,617.4 1575.0,616.6 1575.0,620.5 1573.0,621.3" fill="#eeeade" />
<polygon points="1578.6,620.5 1580.6,619.7 1580.6,623.6 1578.6,624.4" fill="#eeeade" />
<polygon points="1566.0,675.8 1575.8,681.3 1575.8,688.6 1566.0,683.0" fill="#5a5a60" />
<polygon points="1561.2,681.9 1575.8,689.3 1571.9,691.7 1560.2,685.3" fill="#6f8f3e" />
<polygon points="1674.9,701.9 1681.9,698.8 1740.5,736.0 1769.1,722.1 1769.1,724.9 1740.5,740.9" fill="#4f5e2c" />
<polygon points="1681.9,670.5 1740.5,703.9 1740.5,733.9 1681.9,700.5" fill="#e3e5ea" />
<polygon points="1681.9,678.1 1740.5,711.6 1740.5,716.1 1681.9,682.6" fill="#5c606a" />
<polygon points="1681.9,688.6 1740.5,722.1 1740.5,726.6 1681.9,693.1" fill="#5c606a" />
<polygon points="1681.9,699.1 1740.5,732.6 1740.5,737.0 1681.9,703.5" fill="#5c606a" />
<polygon points="1740.5,703.9 1762.8,691.4 1762.8,721.4 1740.5,733.9" fill="#7d8794" />
<polygon points="1681.9,670.5 1705.6,658.6 1762.8,691.4 1740.5,703.9" fill="#eeeef1" />
<polygon points="1686.7,671.7 1707.6,661.3 1757.9,690.1 1738.3,701.2" fill="#b1afb6" />
<circle cx="1695.1" cy="669.3" r="1.4" fill="#f4f4f4" />
<circle cx="1695.1" cy="669.3" r="0.7" fill="#2a2a2e" />
<circle cx="1700.7" cy="672.3" r="1.4" fill="#f4f4f4" />
<circle cx="1700.7" cy="672.3" r="0.7" fill="#2a2a2e" />
<circle cx="1706.3" cy="675.2" r="1.4" fill="#f4f4f4" />
<circle cx="1706.3" cy="675.2" r="0.7" fill="#2a2a2e" />
<circle cx="1724.4" cy="675.6" r="1.4" fill="#f4f4f4" />
<circle cx="1724.4" cy="675.6" r="0.7" fill="#2a2a2e" />
<circle cx="1729.3" cy="678.4" r="1.4" fill="#f4f4f4" />
<circle cx="1729.3" cy="678.4" r="0.7" fill="#2a2a2e" />
<circle cx="1734.9" cy="681.6" r="1.4" fill="#f4f4f4" />
<circle cx="1734.9" cy="681.6" r="0.7" fill="#2a2a2e" />
<circle cx="1740.5" cy="684.7" r="1.4" fill="#f4f4f4" />
<circle cx="1740.5" cy="684.7" r="0.7" fill="#2a2a2e" />
<circle cx="1745.3" cy="687.5" r="1.4" fill="#f4f4f4" />
<circle cx="1745.3" cy="687.5" r="0.7" fill="#2a2a2e" />
<circle cx="1750.2" cy="690.3" r="1.4" fill="#f4f4f4" />
<circle cx="1750.2" cy="690.3" r="0.7" fill="#2a2a2e" />
<polygon points="1713.2,680.8 1717.7,678.8 1723.7,682.2 1719.4,684.4" fill="#f4f2f0" />
<polygon points="1713.2,680.8 1719.4,684.4 1719.4,687.5 1713.2,683.9" fill="#d9d4d2" />
<polygon points="1719.4,684.4 1723.7,682.2 1723.7,685.3 1719.4,687.5" fill="#8a6a72" />
<polygon points="1722.3,685.7 1726.8,683.7 1732.8,687.1 1728.5,689.3" fill="#f4f2f0" />
<polygon points="1722.3,685.7 1728.5,689.3 1728.5,692.4 1722.3,688.7" fill="#d9d4d2" />
<polygon points="1728.5,689.3 1732.8,687.1 1732.8,690.1 1728.5,692.4" fill="#8a6a72" />
<polygon points="1705.6,662.8 1707.2,662.1 1707.2,665.3 1705.6,666.0" fill="#eeeade" />
<polygon points="1709.8,664.9 1711.4,664.2 1711.4,667.4 1709.8,668.1" fill="#eeeade" />
<polygon points="1713.9,667.3 1715.6,666.6 1715.6,669.8 1713.9,670.5" fill="#eeeade" />
<polygon points="1705.6,709.5 1713.2,713.7 1713.2,720.0 1705.6,715.8" fill="#5a5a60" />
<polygon points="1701.4,715.1 1713.2,721.0 1709.8,722.8 1700.0,717.6" fill="#6f8f3e" />
<polygon points="1490.4,799.9 1572.3,753.6 1631.5,785.6 1550.9,834.2" fill="#8a8c8e" />
<polygon points="1500.5,799.9 1572.3,759.6 1621.4,785.6 1550.9,827.2" fill="#6fb6dc" />
<polygon points="1500.5,799.9 1550.9,827.2 1550.9,829.7 1496.7,800.7" fill="#5a93b4" />
<polygon points="1478.0,747.0 1502.0,733.0 1515.0,739.0 1515.0,779.0 1491.0,795.0 1478.0,788.0" fill="#7d8186" />
<polygon points="1478.0,747.0 1502.0,733.0 1515.0,739.0 1491.0,753.0" fill="#c9ccd0" />
<polygon points="1478.0,747.0 1491.0,753.0 1491.0,795.0 1478.0,788.0" fill="#8e9297" />
<polygon points="1491.0,753.0 1515.0,739.0 1515.0,779.0 1491.0,795.0" fill="#a9adb2" />
<polygon points="1493.0,756.0 1513.0,744.0 1513.0,761.0 1493.0,774.0" fill="#caced2" />
<polygon points="1493.0,777.0 1513.0,764.0 1513.0,777.0 1493.0,791.0" fill="#585c62" />
<line x1="1494.0" y1="779.0" x2="1512.0" y2="767.0" stroke="#9a9ea3" stroke-width="0.6" />
<line x1="1494.0" y1="782.0" x2="1512.0" y2="770.0" stroke="#9a9ea3" stroke-width="0.6" />
<line x1="1494.0" y1="785.0" x2="1512.0" y2="773.0" stroke="#9a9ea3" stroke-width="0.6" />
<line x1="1494.0" y1="788.0" x2="1512.0" y2="776.0" stroke="#9a9ea3" stroke-width="0.6" />
<line x1="1480.0" y1="753.0" x2="1489.0" y2="757.0" stroke="#5a5e64" stroke-width="1" />
<line x1="1480.0" y1="758.0" x2="1489.0" y2="762.0" stroke="#5a5e64" stroke-width="1" />
<line x1="1480.0" y1="763.0" x2="1489.0" y2="767.0" stroke="#5a5e64" stroke-width="1" />
<line x1="1480.0" y1="768.0" x2="1489.0" y2="772.0" stroke="#5a5e64" stroke-width="1" />
<line x1="1480.0" y1="773.0" x2="1489.0" y2="777.0" stroke="#5a5e64" stroke-width="1" />
<line x1="1480.0" y1="778.0" x2="1489.0" y2="782.0" stroke="#5a5e64" stroke-width="1" />
<line x1="1480.0" y1="783.0" x2="1489.0" y2="787.0" stroke="#5a5e64" stroke-width="1" />
<circle cx="1507.0" cy="755.0" r="1.8" fill="#7d8186" />
<polygon points="658.0,584.0 682.0,570.0 695.0,576.0 695.0,616.0 671.0,632.0 658.0,625.0" fill="#7d8186" />
<polygon points="658.0,584.0 682.0,570.0 695.0,576.0 671.0,590.0" fill="#c9ccd0" />
<polygon points="658.0,584.0 671.0,590.0 671.0,632.0 658.0,625.0" fill="#8e9297" />
<polygon points="671.0,590.0 695.0,576.0 695.0,616.0 671.0,632.0" fill="#a9adb2" />
<polygon points="673.0,593.0 693.0,581.0 693.0,598.0 673.0,611.0" fill="#caced2" />
<polygon points="673.0,614.0 693.0,601.0 693.0,614.0 673.0,628.0" fill="#585c62" />
<line x1="674.0" y1="616.0" x2="692.0" y2="604.0" stroke="#9a9ea3" stroke-width="0.6" />
<line x1="674.0" y1="619.0" x2="692.0" y2="607.0" stroke="#9a9ea3" stroke-width="0.6" />
<line x1="674.0" y1="622.0" x2="692.0" y2="610.0" stroke="#9a9ea3" stroke-width="0.6" />
<line x1="674.0" y1="625.0" x2="692.0" y2="613.0" stroke="#9a9ea3" stroke-width="0.6" />
<line x1="660.0" y1="590.0" x2="669.0" y2="594.0" stroke="#5a5e64" stroke-width="1" />
<line x1="660.0" y1="595.0" x2="669.0" y2="599.0" stroke="#5a5e64" stroke-width="1" />
<line x1="660.0" y1="600.0" x2="669.0" y2="604.0" stroke="#5a5e64" stroke-width="1" />
<line x1="660.0" y1="605.0" x2="669.0" y2="609.0" stroke="#5a5e64" stroke-width="1" />
<line x1="660.0" y1="610.0" x2="669.0" y2="614.0" stroke="#5a5e64" stroke-width="1" />
<line x1="660.0" y1="615.0" x2="669.0" y2="619.0" stroke="#5a5e64" stroke-width="1" />
<line x1="660.0" y1="620.0" x2="669.0" y2="624.0" stroke="#5a5e64" stroke-width="1" />
<circle cx="687.0" cy="592.0" r="1.8" fill="#7d8186" />
<polygon points="1172.6,415.0 1182.8,406.5 1244.1,439.0 1289.8,460.6 1275.4,466.0 1256.2,461.8" fill="#8a7352" />
<polygon points="1287.4,457.0 1322.3,440.2 1323.7,447.4 1292.2,464.8" fill="#a8a3a0" />
<polygon points="1179.2,389.1 1187.0,383.7 1257.4,419.8 1257.4,428.8 1220.1,420.4 1180.4,398.7" fill="#3d4a4a" />
<polygon points="1178.0,388.8 1183.4,391.2 1183.4,393.6 1178.0,391.6" fill="#e2452a" />
<path d="M1182.2,351.9L1181.6,350.6L1185.8,350.0L1188.2,372.9L1185.8,373.5Z" fill="none" stroke="#e8eeee" stroke-width="1.1"/>
<polygon points="1187.0,344.6 1191.5,343.4 1199.1,385.5 1194.9,387.3" fill="#6fa09a" />
<polygon points="1185.8,377.7 1196.1,382.5 1196.1,387.3 1185.8,382.5" fill="#5a8a86" />
<path d="M1190.6,341.0C1191.9,336.5 1190.9,334.5 1199.7,333.5C1208.4,332.4 1224.2,333.0 1234.5,335.6C1244.9,338.2 1245.1,341.5 1251.3,346.4C1257.6,351.4 1261.2,352.1 1265.8,360.3C1270.3,368.4 1275.4,379.9 1274.2,387.3C1273.0,394.8 1267.2,392.0 1259.8,397.5C1252.3,403.1 1243.9,413.6 1236.9,415.0C1230.0,416.3 1230.7,410.1 1224.9,404.1C1219.1,398.1 1213.4,392.1 1208.1,384.9C1202.8,377.7 1201.3,373.8 1198.5,368.1C1195.6,362.3 1195.2,361.5 1193.7,356.1C1192.1,350.6 1189.4,345.6 1190.6,341.0Z" fill="#9c9c9c" />
<polygon points="1196.1,336.2 1234.5,336.2 1265.8,360.9 1246.5,370.5 1217.7,350.0" fill="#b6b6b6" />
<path d="M1226.1,396.9C1225.6,390.4 1230.4,387.8 1234.5,382.5C1238.6,377.2 1240.3,374.8 1246.5,370.5C1252.8,366.2 1260.2,357.5 1265.8,360.9C1271.3,364.2 1275.4,380.0 1274.2,387.3C1273.0,394.6 1267.2,392.0 1259.8,397.5C1252.3,403.1 1243.7,415.1 1236.9,415.0C1230.2,414.8 1226.6,403.4 1226.1,396.9Z" fill="#7d7d7d" />
<polygon points="1246.5,370.5 1265.8,360.9 1268.8,370.5 1264.6,390.9 1253.8,376.5" fill="#8c8c8c" />
<path d="M1234.5,335.6Q1210.5,344.0 1199.7,360.9" fill="none" stroke="#3a5050" stroke-width="3.2"/>
<polygon points="1178.0,334.2 1180.4,331.4 1198.5,330.2 1200.3,332.0 1190.6,341.0 1181.0,341.0" fill="#6e6e6e" />
<polygon points="1179.8,332.0 1198.5,330.6 1199.1,331.8 1181.0,333.2" fill="#3f6460" />
<polygon points="1180.2,395.1 1187.6,392.1 1220.7,409.5 1220.7,420.4 1212.9,415.0 1180.4,398.7" fill="#56625f" />
<ellipse cx="1191.9" cy="408.3" rx="7.9" ry="10.1" fill="#1c2a2f"  transform="rotate(-10 1191.9 408.3)"/>
<ellipse cx="1188.2" cy="409.5" rx="7.5" ry="9.6" fill="#26353b"  transform="rotate(-10 1188.2 409.5)"/>
<ellipse cx="1189.1" cy="409.5" rx="4.6" ry="6.0" fill="#c3d1d6"  transform="rotate(-10 1189.1 409.5)"/>
<ellipse cx="1189.1" cy="409.5" rx="2.5" ry="3.3" fill="#8a9aa1"  transform="rotate(-10 1189.1 409.5)"/>
<ellipse cx="1189.1" cy="409.5" rx="1.2" ry="1.5" fill="#3a474d"  transform="rotate(-10 1189.1 409.5)"/>
<ellipse cx="1207.5" cy="418.3" rx="7.9" ry="10.1" fill="#1c2a2f"  transform="rotate(-10 1207.5 418.3)"/>
<ellipse cx="1203.9" cy="419.5" rx="7.5" ry="9.6" fill="#26353b"  transform="rotate(-10 1203.9 419.5)"/>
<ellipse cx="1204.8" cy="419.5" rx="4.6" ry="6.0" fill="#c3d1d6"  transform="rotate(-10 1204.8 419.5)"/>
<ellipse cx="1204.8" cy="419.5" rx="2.5" ry="3.3" fill="#8a9aa1"  transform="rotate(-10 1204.8 419.5)"/>
<ellipse cx="1204.8" cy="419.5" rx="1.2" ry="1.5" fill="#3a474d"  transform="rotate(-10 1204.8 419.5)"/>
<path d="M1238.7,412.5C1240.3,410.0 1242.7,408.0 1245.9,407.7C1249.2,407.5 1253.0,408.0 1255.0,411.3C1256.9,414.7 1257.6,421.6 1255.6,424.6C1253.5,427.6 1248.2,427.2 1244.7,426.4C1241.2,425.5 1239.3,423.1 1238.1,420.4C1236.9,417.6 1237.2,415.1 1238.7,412.5Z" fill="#4a7088" />
<polygon points="1230.9,427.6 1238.1,421.0 1257.4,431.8 1248.9,440.2" fill="#5aa098" />
<polygon points="1232.7,428.8 1238.1,424.0 1246.5,428.8 1242.9,435.4" fill="#cdd3d6" />
<polygon points="1244.1,435.4 1248.3,430.0 1256.2,434.2 1250.1,440.2" fill="#b5bcc0" />
<polygon points="1230.9,427.6 1248.9,440.2 1248.9,442.6 1230.9,430.0" fill="#3f6460" />
<polygon points="1255.0,400.5 1282.6,415.0 1285.6,452.8 1273.0,447.4 1256.2,436.0" fill="#e09a20" />
<polygon points="1255.0,400.5 1295.8,377.5 1318.7,388.5 1282.6,415.0" fill="#f0ba2c" />
<polygon points="1282.6,415.0 1318.7,388.5 1326.1,396.9 1327.3,428.2 1286.2,453.7" fill="#efb828" />
<polygon points="1282.8,415.6 1317.5,393.6 1323.7,401.7 1322.5,414.0 1291.2,431.2" fill="#2b6478" />
<polygon points="1256.8,404.1 1262.8,407.3 1262.8,417.6 1256.8,414.0" fill="#5a7480" />
<polygon points="1265.8,408.9 1279.0,416.4 1280.8,432.0 1266.4,422.4" fill="#5a7480" />
<path d="M1280.8,416.2L1289.2,421.0L1289.2,434.2L1285.0,432.4" fill="none" stroke="#f0f0f0" stroke-width="1.6"/>
<path d="M1321.7,395.1L1331.3,401.7L1330.7,412.5L1326.5,411.3" fill="none" stroke="#f0f0f0" stroke-width="1.6"/>
<path d="M1296.4,434.8L1307.8,431.8L1318.7,424.6M1298.2,440.2L1305.4,437.2M1310.8,434.2L1318.1,430.0" fill="none" stroke="#2b5060" stroke-width="2"/>
<polygon points="1285.0,438.4 1291.2,445.0 1285.7,448.4" fill="#f6f2ea" />
<ellipse cx="1266.4" cy="447.4" rx="8.4" ry="11.1" fill="#3d4a4a"  transform="rotate(-10 1266.4 447.4)"/>
<ellipse cx="1262.8" cy="449.6" rx="7.5" ry="10.1" fill="#26353b"  transform="rotate(-10 1262.8 449.6)"/>
<ellipse cx="1263.7" cy="449.6" rx="4.6" ry="6.3" fill="#c3d1d6"  transform="rotate(-10 1263.7 449.6)"/>
<ellipse cx="1263.7" cy="449.6" rx="2.5" ry="3.4" fill="#8a9aa1"  transform="rotate(-10 1263.7 449.6)"/>
<ellipse cx="1263.7" cy="449.6" rx="1.2" ry="1.6" fill="#3a474d"  transform="rotate(-10 1263.7 449.6)"/>
<polygon points="1285.0,448.6 1327.3,425.8 1328.5,433.2 1286.4,458.5" fill="#2f3e44" />
<polygon points="1286.8,450.8 1293.4,447.4 1293.7,452.2 1287.2,455.8" fill="#f4f4f4" />
<polygon points="1321.3,431.2 1327.3,427.9 1327.5,432.0 1321.7,435.4" fill="#f4f4f4" />
<polygon points="851.0,627.0 883.0,611.0 915.0,627.0 883.0,643.0" fill="#2f4a5c" />
<polygon points="851.0,627.0 883.0,643.0 883.0,648.0 851.0,632.0" fill="#243a49" />
<polygon points="915.0,627.0 883.0,643.0 883.0,648.0 915.0,632.0" fill="#1d303d" />
<path d="M856.7,345.0 L875,363.5 M875,348.0 L856.7,360.5 M856.7,360.5 L875,379.0 M875,363.5 L856.7,376.0 M856.7,376.0 L875,394.5 M875,379.0 L856.7,391.5 M856.7,391.5 L875,410.0 M875,394.5 L856.7,407.0 M856.7,407.0 L875,425.5 M875,410.0 L856.7,422.5 M856.7,422.5 L875,441.0 M875,425.5 L856.7,438.0 M856.7,438.0 L875,456.5 M875,441.0 L856.7,453.5 M856.7,453.5 L875,472.0 M875,456.5 L856.7,469.0 M856.7,469.0 L875,487.5 M875,472.0 L856.7,484.5 M856.7,484.5 L875,503.0 M875,487.5 L856.7,500.0 M856.7,500.0 L875,518.5 M875,503.0 L856.7,515.5 M856.7,515.5 L875,534.0 M875,518.5 L856.7,531.0 M856.7,531.0 L875,549.5 M875,534.0 L856.7,546.5 M856.7,546.5 L875,565.0 M875,549.5 L856.7,562.0 M856.7,562.0 L875,580.5 M875,565.0 L856.7,577.5 M856.7,577.5 L875,596.0 M875,580.5 L856.7,593.0 M856.7,593.0 L875,611.5 M875,596.0 L856.7,608.5 M856.7,608.5 L875,627.0 M875,611.5 L856.7,624.0 " fill="none" stroke="#56646f" stroke-width="2.4"/>
<path d="M875,353.0 L894,359.5 M894,347.0 L875,368.5 M875,368.5 L894,375.0 M894,362.5 L875,384.0 M875,384.0 L894,390.5 M894,378.0 L875,399.5 M875,399.5 L894,406.0 M894,393.5 L875,415.0 M875,415.0 L894,421.5 M894,409.0 L875,430.5 M875,430.5 L894,437.0 M894,424.5 L875,446.0 M875,446.0 L894,452.5 M894,440.0 L875,461.5 M875,461.5 L894,468.0 M894,455.5 L875,477.0 M875,477.0 L894,483.5 M894,471.0 L875,492.5 M875,492.5 L894,499.0 M894,486.5 L875,508.0 M875,508.0 L894,514.5 M894,502.0 L875,523.5 M875,523.5 L894,530.0 M894,517.5 L875,539.0 M875,539.0 L894,545.5 M894,533.0 L875,554.5 M875,554.5 L894,561.0 M894,548.5 L875,570.0 M875,570.0 L894,576.5 M894,564.0 L875,585.5 M875,585.5 L894,592.0 M894,579.5 L875,601.0 M875,601.0 L894,607.5 M894,595.0 L875,616.5 M875,616.5 L894,623.0 M894,610.5 L875,632.0 " fill="none" stroke="#63717c" stroke-width="2.2"/>
<rect x="854.5" y="334.0" width="4.4" height="291.0" fill="#6c7a85" />
<rect x="872.8" y="331.0" width="4.4" height="305.0" fill="#6c7a85" />
<rect x="891.8" y="341.0" width="4.4" height="285.0" fill="#6c7a85" />
<rect x="873.5" y="331.0" width="3.0" height="20.0" fill="#6c7a85" />
<line x1="856.7" y1="335.0" x2="875.0" y2="332.0" stroke="#6c7a85" stroke-width="4" />
<line x1="875.0" y1="332.0" x2="894.0" y2="342.0" stroke="#6c7a85" stroke-width="4" />
<line x1="855.0" y1="336.0" x2="826.0" y2="398.0" stroke="#3d4f66" stroke-width="2.2" />
<line x1="826.0" y1="398.0" x2="790.0" y2="440.0" stroke="#3d4f66" stroke-width="2" />
<line x1="876.0" y1="333.0" x2="911.0" y2="357.0" stroke="#3d4f66" stroke-width="2.6" />
<circle cx="887.0" cy="445.0" r="1.4" fill="#f3e27a" />
<circle cx="887.0" cy="463.0" r="1.4" fill="#f3e27a" />
<circle cx="887.0" cy="481.0" r="1.4" fill="#f3e27a" />
<circle cx="887.0" cy="499.0" r="1.4" fill="#f3e27a" />
<circle cx="887.0" cy="517.0" r="1.4" fill="#f3e27a" />
<circle cx="887.0" cy="535.0" r="1.4" fill="#f3e27a" />
<circle cx="887.0" cy="553.0" r="1.4" fill="#f3e27a" />
<circle cx="887.0" cy="571.0" r="1.4" fill="#f3e27a" />
<circle cx="887.0" cy="589.0" r="1.4" fill="#f3e27a" />
<circle cx="887.0" cy="607.0" r="1.4" fill="#f3e27a" />
<circle cx="877.5" cy="347.5" r="1.8" fill="#f3e27a" />
<circle cx="894.0" cy="344.5" r="1.8" fill="#f3e27a" />
<polygon points="727.0,459.0 733.0,452.0 925.0,349.5 929.5,353.0 731.0,464.0" fill="#7a8994" />
<polygon points="727.0,459.0 731.0,464.0 929.5,353.0 929.5,365.0 736.0,471.0 728.0,469.0" fill="#525f6a" />
<polygon points="912.0,357.0 925.0,349.5 929.5,353.0 929.5,365.0 916.0,371.0" fill="#5f6d78" />
<line x1="757.0" y1="474.0" x2="868.0" y2="414.0" stroke="#59656f" stroke-width="1.6" />
<line x1="760.0" y1="479.0" x2="871.0" y2="419.0" stroke="#8d979e" stroke-width="1.6" />
<rect x="741.0" y="470.0" width="5.5" height="66.0" fill="#9aa0a5" />
<rect x="744.0" y="470.0" width="2.5" height="66.0" fill="#6f767c" />
<circle cx="748.5" cy="482.5" r="9.5" fill="#cfe3ee" />
<circle cx="752.0" cy="483.5" r="9.2" fill="#dcecf4" />
<circle cx="752.5" cy="483.5" r="5.6" fill="#f2c33a" />
<path d="M735.5,537 q0,-3 4,-3 h9 q4,0 4,3 v6 q-3,6 -8.5,6 q-5.5,0 -8.5,-6z" fill="#b3263a" />
<path d="M744,549 v6 q0,4 3,4 q3,0 3,-4" fill="none" stroke="#5f6a72" stroke-width="2"/>
<rect x="928.0" y="384.0" width="5.5" height="100.0" fill="#a3a8ac" />
<rect x="931.0" y="384.0" width="2.5" height="100.0" fill="#767d83" />
<polygon points="915.0,486.0 934.0,477.0 949.0,484.0 949.0,492.0 930.0,501.0 915.0,494.0" fill="#b8a88a" />
<polygon points="915.0,486.0 930.0,493.0 930.0,501.0 915.0,494.0" fill="#9d8e73" />
<polygon points="921.0,481.0 934.0,475.0 944.0,480.0 931.0,486.0" fill="#6c7a85" />
<circle cx="925.0" cy="382.5" r="9.5" fill="#cfe3ee" />
<circle cx="928.5" cy="383.5" r="9.2" fill="#dcecf4" />
<circle cx="929.0" cy="383.5" r="5.6" fill="#f2c33a" />
<polygon points="861.0,409.0 876.0,377.0 897.0,365.0 918.0,376.0 918.0,411.0 889.5,431.6 862.0,420.0" fill="#eec03a" />
<polygon points="861.0,409.0 876.0,377.0 880.0,379.0 866.0,411.0 889.5,422.0 889.5,431.6 862.0,420.0" fill="#d2a127" />
<polygon points="879.0,383.0 899.0,388.0 911.0,386.0 911.0,406.0 889.5,417.7 884.0,404.0" fill="#a9d5e9" />
<polygon points="911.0,386.0 918.0,378.0 918.0,411.0 911.0,414.0" fill="#d9a92a" />
<polygon points="962.0,698.0 966.0,727.0 1061.0,789.0 1243.0,685.0 1224.0,652.0 1051.7,745.0" fill="#9c8360" />
<polygon points="968.0,597.0 1051.7,653.0 1051.7,744.0 968.0,688.0" fill="#b9b5a3" />
<polygon points="1051.7,653.0 1221.0,557.0 1221.0,648.0 1051.7,744.0" fill="#cfcbb8" />
<polygon points="1051.7,673.0 1221.0,577.0 1221.0,594.0 1051.7,690.0" fill="#d9d5c2" />
<polygon points="968.0,617.0 1051.7,673.0 1051.7,690.0 968.0,634.0" fill="#b3a98f" />
<polygon points="968.0,617.0 1051.7,673.0 1051.7,679.0 968.0,623.0" fill="#958b72" />
<polygon points="1051.7,710.0 1221.0,614.0 1221.0,631.0 1051.7,727.0" fill="#d9d5c2" />
<polygon points="968.0,654.0 1051.7,710.0 1051.7,727.0 968.0,671.0" fill="#b3a98f" />
<polygon points="968.0,654.0 1051.7,710.0 1051.7,716.0 968.0,660.0" fill="#958b72" />
<polygon points="1051.7,653.0 1221.0,557.0 1221.0,568.0 1051.7,664.0" fill="#e5e1ce" />
<polygon points="1051.7,664.0 1221.0,568.0 1221.0,577.0 1051.7,673.0" fill="#bebaa7" />
<polygon points="968.0,597.0 1051.7,653.0 1051.7,664.0 968.0,608.0" fill="#d7d3bf" />
<polygon points="968.0,608.0 1051.7,664.0 1051.7,673.0 968.0,617.0" fill="#aca896" />
<polygon points="1051.7,690.0 1221.0,594.0 1221.0,605.0 1051.7,701.0" fill="#e5e1ce" />
<polygon points="1051.7,701.0 1221.0,605.0 1221.0,614.0 1051.7,710.0" fill="#bebaa7" />
<polygon points="968.0,634.0 1051.7,690.0 1051.7,701.0 968.0,645.0" fill="#d7d3bf" />
<polygon points="968.0,645.0 1051.7,701.0 1051.7,710.0 968.0,654.0" fill="#aca896" />
<polygon points="1051.7,724.0 1221.0,628.0 1221.0,639.0 1051.7,735.0" fill="#e5e1ce" />
<polygon points="1051.7,735.0 1221.0,639.0 1221.0,648.0 1051.7,744.0" fill="#bebaa7" />
<polygon points="968.0,668.0 1051.7,724.0 1051.7,735.0 968.0,679.0" fill="#d7d3bf" />
<polygon points="968.0,679.0 1051.7,735.0 1051.7,744.0 968.0,688.0" fill="#aca896" />
<polygon points="1051.7,664.0 1062.8,661.7 1062.8,687.7 1051.7,690.0" fill="#b5b1a0" />
<polygon points="1062.8,661.7 1075.0,650.8 1075.0,676.8 1062.8,687.7" fill="#d2cebb" />
<polygon points="1051.7,701.0 1062.8,698.7 1062.8,724.7 1051.7,727.0" fill="#b5b1a0" />
<polygon points="1062.8,698.7 1075.0,687.8 1075.0,713.8 1062.8,724.7" fill="#d2cebb" />
<polygon points="1051.7,735.0 1062.8,732.7 1062.8,754.7 1051.7,757.0" fill="#b5b1a0" />
<polygon points="1062.8,732.7 1075.0,721.8 1075.0,743.8 1062.8,754.7" fill="#d2cebb" />
<polygon points="1191.0,585.0 1203.0,582.2 1203.0,608.2 1191.0,611.0" fill="#b5b1a0" />
<polygon points="1203.0,582.2 1215.0,571.4 1215.0,597.4 1203.0,608.2" fill="#d2cebb" />
<polygon points="1191.0,622.0 1203.0,619.2 1203.0,645.2 1191.0,648.0" fill="#b5b1a0" />
<polygon points="1203.0,619.2 1215.0,608.4 1215.0,634.4 1203.0,645.2" fill="#d2cebb" />
<polygon points="1191.0,656.0 1203.0,653.2 1203.0,675.2 1191.0,678.0" fill="#b5b1a0" />
<polygon points="1203.0,653.2 1215.0,642.4 1215.0,664.4 1203.0,675.2" fill="#d2cebb" />
<polygon points="1036.0,412.0 1221.0,517.0 1221.0,557.0 1051.7,653.0 968.0,597.0 961.0,453.0" fill="#ebe7d7" />
<polygon points="961.0,453.0 975.0,446.0 990.0,455.0 975.0,463.0" fill="#ebe7d7" />
<polygon points="961.0,453.0 975.0,463.0 975.0,470.0 961.0,460.0" fill="#b0ad9c" />
<polygon points="1024.0,407.6 1036.0,414.2 1036.0,429.0 1024.0,422.4" fill="#bab6a4" />
<polygon points="1048.0,407.6 1036.0,414.2 1036.0,429.0 1048.0,422.4" fill="#dcd8c6" />
<polygon points="1036.0,401.0 1048.0,407.6 1036.0,414.2 1024.0,407.6" fill="#fbf8ea" />
<polygon points="966.4,437.6 978.3,444.1 978.3,457.3 966.4,450.7" fill="#bab6a4" />
<polygon points="990.3,437.6 978.3,444.1 978.3,457.3 990.3,450.7" fill="#dcd8c6" />
<polygon points="978.3,431.0 990.3,437.6 978.3,444.1 966.4,437.6" fill="#fbf8ea" />
<polygon points="968.0,464.2 979.5,457.8 991.0,464.2 979.5,470.6" fill="#8a2a2a" />
<polygon points="968.0,464.2 979.5,470.6 979.5,500.0 968.0,494.0" fill="#a6a291" />
<polygon points="991.0,464.2 979.5,470.6 979.5,500.0 991.0,494.0" fill="#cbc7b4" />
<polygon points="1078.4,500.5 1090.2,507.0 1090.2,521.9 1078.4,515.4" fill="#bab6a4" />
<polygon points="1102.0,500.5 1090.2,507.0 1090.2,521.9 1102.0,515.4" fill="#dcd8c6" />
<polygon points="1090.2,494.0 1102.0,500.5 1090.2,507.0 1078.4,500.5" fill="#fbf8ea" />
<polygon points="1190.7,502.5 1202.8,509.2 1202.8,523.5 1190.7,516.8" fill="#bab6a4" />
<polygon points="1215.0,502.5 1202.8,509.2 1202.8,523.5 1215.0,516.8" fill="#dcd8c6" />
<polygon points="1202.8,495.8 1215.0,502.5 1202.8,509.2 1190.7,502.5" fill="#fbf8ea" />
<polygon points="1190.7,528.5 1203.0,521.9 1215.0,528.5 1203.0,535.0" fill="#8a2a2a" />
<polygon points="1190.7,528.5 1203.0,535.0 1203.0,567.0 1190.7,560.0" fill="#a6a291" />
<polygon points="1215.0,528.5 1203.0,535.0 1203.0,567.0 1215.0,560.0" fill="#cbc7b4" />
<polygon points="1051.0,609.7 1063.0,603.7 1075.0,609.7 1063.0,615.8" fill="#8a2a2a" />
<polygon points="1051.0,609.7 1063.0,615.8 1063.0,649.0 1051.0,642.8" fill="#a6a291" />
<polygon points="1075.0,609.7 1063.0,615.8 1063.0,649.0 1075.0,642.8" fill="#cbc7b4" />
<polygon points="1107.5,661.4 1150.0,638.0 1181.0,656.8 1140.0,681.0" fill="#eec657" />
<polygon points="1107.5,661.4 1140.0,681.0 1140.0,684.5 1107.5,665.0" fill="#d9ac3c" />
<polygon points="1140.0,681.0 1181.0,656.8 1181.0,660.0 1140.0,684.5" fill="#c99a30" />
<line x1="1095.4" y1="630.7" x2="1130.8" y2="672.6" stroke="#c48a2c" stroke-width="3.2" />
<line x1="1133.6" y1="610.0" x2="1168.0" y2="651.0" stroke="#c48a2c" stroke-width="3.2" />
<polygon points="955.8,463.4 961.9,466.8 961.9,740.5 955.8,737.1" fill="#77726f" />
<polygon points="968.0,463.4 961.9,466.8 961.9,740.5 968.0,737.1" fill="#8c8c8c" />
<polygon points="961.9,460.0 968.0,463.4 961.9,466.8 955.8,463.4" fill="#b3adab" />
<polygon points="977.0,473.8 983.2,477.2 983.2,753.6 977.0,750.2" fill="#77726f" />
<polygon points="989.5,473.8 983.2,477.2 983.2,753.6 989.5,750.2" fill="#8c8c8c" />
<polygon points="983.2,470.4 989.5,473.8 983.2,477.2 977.0,473.8" fill="#b3adab" />
<polygon points="1004.0,492.4 1010.4,495.8 1010.4,770.0 1004.0,766.6" fill="#77726f" />
<polygon points="1016.7,492.4 1010.4,495.8 1010.4,770.0 1016.7,766.6" fill="#8c8c8c" />
<polygon points="1010.4,489.0 1016.7,492.4 1010.4,495.8 1004.0,492.4" fill="#b3adab" />
<polygon points="1030.0,510.3 1036.3,513.7 1036.3,788.0 1030.0,784.6" fill="#77726f" />
<polygon points="1042.7,510.3 1036.3,513.7 1036.3,788.0 1042.7,784.6" fill="#8c8c8c" />
<polygon points="1036.3,506.9 1042.7,510.3 1036.3,513.7 1030.0,510.3" fill="#b3adab" />
<polygon points="972.0,620.0 987.0,613.0 992.0,616.0 992.0,622.0 978.0,629.0 972.0,626.0" fill="#7d8287" />
<polygon points="972.0,620.0 978.0,623.5 978.0,629.0 972.0,626.0" fill="#2b2e33" />
<polygon points="972.0,620.0 987.0,613.0 992.0,616.0 978.0,623.5" fill="#c7cacd" />
<ellipse cx="996.0" cy="633.0" rx="5.5" ry="5.0" fill="#d9dadc" />
<ellipse cx="995.0" cy="633.5" rx="3.0" ry="3.0" fill="#b4b6b9" />
<rect x="986.0" y="626.0" width="7.0" height="3.0" fill="#9a9da0" />
<polygon points="647.0,349.0 668.0,338.0 748.0,378.0 733.0,392.0" fill="#9b9693" />
<ellipse cx="661.4" cy="350.1" rx="10.4" ry="5.2" fill="#3c3228" fill-opacity="0.32"/>
<ellipse cx="656.7" cy="350.6" rx="4.0" ry="2.1" fill="#d67a1e" />
<ellipse cx="663.3" cy="348.2" rx="4.0" ry="2.1" fill="#d67a1e" />
<polygon points="652.5,318.0 658.3,318.0 657.8,350.1 652.9,350.1" fill="#dcb82c" />
<polygon points="658.9,318.0 664.7,318.0 664.6,347.3 659.5,347.3" fill="#c1a126" />
<polygon points="652.0,297.2 665.2,297.2 665.7,319.9 651.5,319.9" fill="#16404f" />
<polygon points="654.4,302.9 662.9,302.9 664.7,319.9 652.5,319.9" fill="#dcb82c" />
<polygon points="654.4,302.9 655.8,302.9 654.4,296.3 652.9,296.3" fill="#dcb82c" />
<polygon points="662.9,302.9 661.4,302.9 662.9,296.3 664.3,296.3" fill="#dcb82c" />
<path d="M653.9,300.1 L661.4,306.7 L669.9,309.5" fill="none" stroke="#16404f" stroke-width="4.0" stroke-linecap="round" stroke-linejoin="round"/>
<circle cx="669.9" cy="309.5" r="2.2" fill="#f3dccb" />
<path d="M664.3,300.1 L668.0,305.7 L673.7,307.6" fill="none" stroke="#16404f" stroke-width="4.0" stroke-linecap="round" stroke-linejoin="round"/>
<circle cx="673.7" cy="307.6" r="2.2" fill="#f3dccb" />
<ellipse cx="657.8" cy="291.4" rx="4.0" ry="4.3" fill="#6a4a2a" />
<circle cx="659.9" cy="292.3" r="4.1" fill="#f3dccb" />
<path d="M653.3,290.3 a6.0,5.9 0 0 1 12.1,0 q-6.0,2.1 -12.1,0z" fill="#f0c530" />
<polygon points="660.8,290.0 667.7,291.6 660.8,292.1" fill="#f0c530" />
<polygon points="667.5,315.6 678.8,310.5 753.0,353.4 743.0,369.7 665.0,323.0" fill="#e0b95a" />
<polygon points="665.0,323.0 743.0,369.7 743.0,373.0 665.0,326.5" fill="#c49a3c" />
<ellipse cx="752.4" cy="400.6" rx="3.9" ry="2.0" fill="#d67a1e" />
<ellipse cx="758.8" cy="398.3" rx="3.9" ry="2.0" fill="#d67a1e" />
<polygon points="751.0,369.0 756.7,369.0 756.3,400.2 751.5,400.2" fill="#dcb82c" />
<polygon points="757.3,369.0 763.0,369.0 762.8,397.4 757.9,397.4" fill="#dcb82c" />
<polygon points="751.0,369.0 756.7,369.0 756.3,400.2 751.5,400.2" fill="#c1a126" />
<polygon points="750.6,348.8 763.4,348.8 763.9,370.8 750.1,370.8" fill="#16404f" />
<polygon points="752.9,354.3 761.1,354.3 763.0,370.8 751.0,370.8" fill="#dcb82c" />
<polygon points="752.9,354.3 754.2,354.3 752.9,347.9 751.5,347.9" fill="#dcb82c" />
<polygon points="761.1,354.3 759.8,354.3 761.1,347.9 762.5,347.9" fill="#dcb82c" />
<path d="M761.6,351.6 L754.2,358.0 L746.0,360.8" fill="none" stroke="#16404f" stroke-width="3.9" stroke-linecap="round" stroke-linejoin="round"/>
<circle cx="746.0" cy="360.8" r="2.1" fill="#f3dccb" />
<path d="M751.5,351.6 L747.8,357.1 L742.3,358.9" fill="none" stroke="#16404f" stroke-width="3.9" stroke-linecap="round" stroke-linejoin="round"/>
<circle cx="742.3" cy="358.9" r="2.1" fill="#f3dccb" />
<ellipse cx="757.7" cy="343.1" rx="3.9" ry="4.2" fill="#6a4a2a" />
<circle cx="755.7" cy="344.1" r="3.9" fill="#f3dccb" />
<path d="M750.4,342.1 a5.9,5.7 0 0 1 11.7,0 q-5.9,2.0 -11.7,0z" fill="#f0c530" />
<polygon points="754.9,341.9 748.2,343.3 754.9,343.9" fill="#f0c530" />
<polygon points="1291.6,554.8 1320.9,535.3 1350.2,553.4 1350.2,563.2 1320.9,580.5 1291.6,563.2" fill="#c9862a" />
<polygon points="1291.6,552.1 1323.7,570.2 1323.7,577.2 1291.6,560.4" fill="#8a5a20" />
<polygon points="1292.4,547.9 1320.9,563.2 1320.9,573.8 1292.4,559.0" fill="#c95f1c" />
<polygon points="1320.9,563.2 1348.8,547.0 1348.8,557.6 1320.9,573.8" fill="#e8782a" />
<polygon points="1292.4,547.9 1320.9,531.1 1348.8,547.0 1320.9,563.2" fill="#f08a3a" />
<polygon points="1301.3,539.5 1325.1,526.4 1344.6,538.1 1320.9,551.5" fill="#f08a3a" />
<polygon points="1301.3,539.5 1320.9,551.5 1320.9,563.2 1301.3,552.1" fill="#c95f1c" />
<polygon points="1320.9,551.5 1344.6,538.1 1344.6,549.3 1320.9,563.2" fill="#e8782a" />
<line x1="1299.7" y1="551.8" x2="1299.7" y2="562.9" stroke="#a84a14" stroke-width="0.7" />
<line x1="1327.8" y1="559.2" x2="1327.8" y2="569.8" stroke="#b8521a" stroke-width="0.7" />
<line x1="1306.9" y1="555.7" x2="1306.9" y2="566.8" stroke="#a84a14" stroke-width="0.7" />
<line x1="1334.8" y1="555.1" x2="1334.8" y2="565.7" stroke="#b8521a" stroke-width="0.7" />
<line x1="1314.2" y1="559.6" x2="1314.2" y2="570.7" stroke="#a84a14" stroke-width="0.7" />
<line x1="1341.8" y1="551.1" x2="1341.8" y2="561.7" stroke="#b8521a" stroke-width="0.7" />
<line x1="1292.4" y1="553.4" x2="1320.9" y2="568.8" stroke="#a84a14" stroke-width="0.7" />
<line x1="1320.9" y1="568.8" x2="1348.8" y2="552.6" stroke="#b8521a" stroke-width="0.7" />
<line x1="1339.0" y1="503.2" x2="1346.0" y2="539.5" stroke="#8e9297" stroke-width="3" />
<line x1="1336.2" y1="504.6" x2="1344.6" y2="501.8" stroke="#4a4a4e" stroke-width="2.4" />
<ellipse cx="1369.7" cy="540.2" rx="9.8" ry="4.9" fill="#3c3228" fill-opacity="0.32"/>
<ellipse cx="1362.6" cy="540.7" rx="3.7" ry="2.0" fill="#d8455a" />
<ellipse cx="1368.8" cy="538.4" rx="3.7" ry="2.0" fill="#d8455a" />
<polygon points="1361.2,510.0 1366.7,510.0 1366.3,540.2 1361.7,540.2" fill="#dcb82c" />
<polygon points="1367.3,510.0 1372.8,510.0 1372.6,537.6 1367.9,537.6" fill="#dcb82c" />
<polygon points="1361.2,510.0 1366.7,510.0 1366.3,540.2 1361.7,540.2" fill="#c1a126" />
<polygon points="1360.8,490.4 1373.2,490.4 1373.7,511.8 1360.3,511.8" fill="#16404f" />
<polygon points="1363.0,495.8 1371.0,495.8 1372.8,511.8 1361.2,511.8" fill="#dcb82c" />
<polygon points="1363.0,495.8 1364.3,495.8 1363.0,489.6 1361.7,489.6" fill="#dcb82c" />
<polygon points="1371.0,495.8 1369.7,495.8 1371.0,489.6 1372.3,489.6" fill="#dcb82c" />
<path d="M1371.4,493.1 L1364.3,499.3 L1356.3,502.0" fill="none" stroke="#16404f" stroke-width="3.7" stroke-linecap="round" stroke-linejoin="round"/>
<circle cx="1356.3" cy="502.0" r="2.0" fill="#f3dccb" />
<path d="M1361.7,493.1 L1358.1,498.4 L1352.8,500.2" fill="none" stroke="#16404f" stroke-width="3.7" stroke-linecap="round" stroke-linejoin="round"/>
<circle cx="1352.8" cy="500.2" r="2.0" fill="#f3dccb" />
<ellipse cx="1367.7" cy="484.9" rx="3.7" ry="4.1" fill="#6a4a2a" />
<circle cx="1365.8" cy="485.8" r="3.8" fill="#f3dccb" />
<path d="M1360.6,484.0 a5.7,5.5 0 0 1 11.4,0 q-5.7,2.0 -11.4,0z" fill="#ea8c25" />
<polygon points="1365.0,483.7 1358.5,485.1 1365.0,485.6" fill="#ea8c25" />
<ellipse cx="1294.8" cy="663.1" rx="10.4" ry="5.2" fill="#3c3228" fill-opacity="0.32"/>
<ellipse cx="1287.3" cy="663.6" rx="4.0" ry="2.1" fill="#d67a1e" />
<ellipse cx="1293.9" cy="661.2" rx="4.0" ry="2.1" fill="#d67a1e" />
<polygon points="1285.9,631.0 1291.7,631.0 1291.2,663.1 1286.3,663.1" fill="#5a5030" />
<polygon points="1292.3,631.0 1298.1,631.0 1298.0,660.3 1292.9,660.3" fill="#5a5030" />
<polygon points="1285.9,631.0 1291.7,631.0 1291.2,663.1 1286.3,663.1" fill="#4f462a" />
<polygon points="1285.4,610.2 1298.6,610.2 1299.1,632.9 1284.9,632.9" fill="#16404f" />
<polygon points="1287.8,615.9 1296.2,615.9 1298.1,632.9 1285.9,632.9" fill="#5a5030" />
<polygon points="1287.8,615.9 1289.2,615.9 1287.8,609.3 1286.3,609.3" fill="#5a5030" />
<polygon points="1296.2,615.9 1294.8,615.9 1296.2,609.3 1297.7,609.3" fill="#5a5030" />
<path d="M1298.6,612.1 L1300.0,621.6 L1299.1,631.0" fill="none" stroke="#16404f" stroke-width="4.0" stroke-linecap="round" stroke-linejoin="round"/>
<circle cx="1299.1" cy="631.0" r="2.2" fill="#f3dccb" />
<path d="M1286.3,613.1 L1280.7,612.1 L1274.1,610.2" fill="none" stroke="#16404f" stroke-width="4.0" stroke-linecap="round" stroke-linejoin="round"/>
<circle cx="1274.1" cy="610.2" r="2.2" fill="#f3dccb" />
<ellipse cx="1292.8" cy="604.4" rx="4.0" ry="4.3" fill="#6a4a2a" />
<circle cx="1290.7" cy="605.3" r="4.1" fill="#f3dccb" />
<path d="M1285.2,603.3 a6.0,5.9 0 0 1 12.1,0 q-6.0,2.1 -12.1,0z" fill="#f0c530" />
<polygon points="1289.8,603.0 1282.9,604.6 1289.8,605.1" fill="#f0c530" />
<ellipse cx="1187.2" cy="787.7" rx="4.7" ry="2.4" fill="#1a1a1a" />
<ellipse cx="1195.0" cy="785.0" rx="4.7" ry="2.4" fill="#1a1a1a" />
<polygon points="1182.2,749.4 1189.1,749.4 1188.5,787.2 1182.7,787.2" fill="#5a5f5a" />
<polygon points="1189.7,749.4 1196.6,749.4 1196.4,783.8 1190.5,783.8" fill="#4f534f" />
<polygon points="1181.6,725.0 1197.2,725.0 1197.7,751.6 1181.1,751.6" fill="#c5d8f0" />
<path d="M1182.7,728.3 L1187.2,738.3 L1198.3,742.7" fill="none" stroke="#c5d8f0" stroke-width="4.7" stroke-linecap="round" stroke-linejoin="round"/>
<circle cx="1198.3" cy="742.7" r="2.6" fill="#f3dccb" />
<path d="M1196.1,728.3 L1199.4,737.2 L1201.6,745.0" fill="none" stroke="#c5d8f0" stroke-width="4.7" stroke-linecap="round" stroke-linejoin="round"/>
<circle cx="1201.6" cy="745.0" r="2.6" fill="#f3dccb" />
<ellipse cx="1188.5" cy="718.1" rx="4.7" ry="5.1" fill="#6a4a2a" />
<circle cx="1191.0" cy="719.2" r="4.8" fill="#f3dccb" />
<path d="M1183.2,716.8 a7.1,6.9 0 0 1 14.2,0 q-7.1,2.4 -14.2,0z" fill="#f0d060" />
<polygon points="1192.0,716.5 1200.1,718.3 1192.0,719.0" fill="#f0d060" />
<rect x="1182.5" y="726.0" width="8.5" height="13.0" fill="#4f6ab8" />
<rect x="1183.5" y="727.5" width="6.5" height="4.0" fill="#8fa6e0" />
<ellipse cx="1113.6" cy="577.9" rx="9.5" ry="4.7" fill="#3c3228" fill-opacity="0.32"/>
<ellipse cx="1109.3" cy="578.3" rx="3.6" ry="1.9" fill="#d67a1e" />
<ellipse cx="1115.3" cy="576.2" rx="3.6" ry="1.9" fill="#d67a1e" />
<polygon points="1106.3,548.6 1111.6,548.6 1110.3,577.9 1105.8,577.9" fill="#dcb82c" />
<polygon points="1112.1,548.6 1117.5,548.6 1116.4,575.3 1111.9,575.3" fill="#c1a126" />
<polygon points="1109.0,529.7 1121.0,529.7 1118.0,550.3 1105.1,550.3" fill="#16404f" />
<polygon points="1110.3,534.8 1118.0,534.8 1117.2,550.3 1106.0,550.3" fill="#dcb82c" />
<polygon points="1110.3,534.8 1111.6,534.8 1111.3,528.8 1110.0,528.8" fill="#dcb82c" />
<polygon points="1118.0,534.8 1116.7,534.8 1119.0,528.8 1120.3,528.8" fill="#dcb82c" />
<path d="M1111.0,532.2 L1117.9,538.3 L1125.6,540.9" fill="none" stroke="#16404f" stroke-width="3.6" stroke-linecap="round" stroke-linejoin="round"/>
<circle cx="1125.6" cy="540.9" r="2.0" fill="#f3dccb" />
<path d="M1120.5,532.2 L1123.9,537.4 L1129.1,539.1" fill="none" stroke="#16404f" stroke-width="3.6" stroke-linecap="round" stroke-linejoin="round"/>
<circle cx="1129.1" cy="539.1" r="2.0" fill="#f3dccb" />
<ellipse cx="1114.6" cy="524.3" rx="3.6" ry="4.0" fill="#6a4a2a" />
<circle cx="1116.5" cy="525.2" r="3.7" fill="#f3dccb" />
<path d="M1110.5,523.4 a5.5,5.3 0 0 1 11.0,0 q-5.5,1.9 -11.0,0z" fill="#f0c530" />
<polygon points="1117.3,523.1 1123.6,524.5 1117.3,525.0" fill="#f0c530" />
<polygon points="1121.5,507.0 1151.6,490.0 1151.6,528.4 1122.3,546.3" fill="#f4f6f8" />
<polygon points="1123.5,510.5 1135.5,503.8 1135.5,537.0 1124.0,543.5" fill="#9fd4ea" />
<polygon points="1138.0,502.3 1149.6,495.6 1149.6,527.0 1138.0,535.5" fill="#9fd4ea" />
<path d="M1121.5,507 L1151.6,490 V528.4 L1122.3,546.3Z" fill="none" stroke="#1f3a5a" stroke-width="1.2"/>
<path d="M1125,530 L1134,510 M1140,522 L1148,503" fill="none" stroke="#d8eef6" stroke-width="1.5"/>
<ellipse cx="1165.7" cy="557.2" rx="9.8" ry="4.9" fill="#3c3228" fill-opacity="0.32"/>
<ellipse cx="1158.6" cy="557.7" rx="3.7" ry="2.0" fill="#d67a1e" />
<ellipse cx="1164.8" cy="555.4" rx="3.7" ry="2.0" fill="#d67a1e" />
<polygon points="1157.2,527.0 1162.7,527.0 1162.3,557.2 1157.7,557.2" fill="#dcb82c" />
<polygon points="1163.3,527.0 1168.8,527.0 1168.6,554.6 1163.9,554.6" fill="#dcb82c" />
<polygon points="1157.2,527.0 1162.7,527.0 1162.3,557.2 1157.7,557.2" fill="#c1a126" />
<polygon points="1156.8,507.4 1169.2,507.4 1169.7,528.8 1156.3,528.8" fill="#16404f" />
<polygon points="1159.0,512.8 1167.0,512.8 1168.8,528.8 1157.2,528.8" fill="#dcb82c" />
<polygon points="1159.0,512.8 1160.3,512.8 1159.0,506.6 1157.7,506.6" fill="#dcb82c" />
<polygon points="1167.0,512.8 1165.7,512.8 1167.0,506.6 1168.3,506.6" fill="#dcb82c" />
<path d="M1167.4,510.1 L1160.3,516.3 L1152.3,519.0" fill="none" stroke="#16404f" stroke-width="3.7" stroke-linecap="round" stroke-linejoin="round"/>
<circle cx="1152.3" cy="519.0" r="2.0" fill="#f3dccb" />
<path d="M1157.7,510.1 L1154.1,515.4 L1148.8,517.2" fill="none" stroke="#16404f" stroke-width="3.7" stroke-linecap="round" stroke-linejoin="round"/>
<circle cx="1148.8" cy="517.2" r="2.0" fill="#f3dccb" />
<ellipse cx="1163.7" cy="501.9" rx="3.7" ry="4.1" fill="#6a4a2a" />
<circle cx="1161.8" cy="502.8" r="3.8" fill="#f3dccb" />
<path d="M1156.6,501.0 a5.7,5.5 0 0 1 11.4,0 q-5.7,2.0 -11.4,0z" fill="#f0c530" />
<polygon points="1161.0,500.7 1154.5,502.1 1161.0,502.6" fill="#f0c530" />
<polygon points="660.5,736.2 668.6,730.6 789.0,797.6 821.2,779.0 822.5,784.0 785.2,805.1 774.1,804.5" fill="#b7b2ae" />
<polygon points="668.6,717.0 759.2,760.4 759.2,775.3 668.6,730.6" fill="#1e3036" />
<polygon points="759.2,760.4 774.1,767.9 774.1,789.0 759.2,775.3" fill="#1e3036" />
<ellipse cx="681.0" cy="734.1" rx="7.2" ry="8.9" fill="#1c2a2f"  transform="rotate(-8 681.0 734.1)"/>
<ellipse cx="677.9" cy="735.6" rx="6.5" ry="8.2" fill="#26353b"  transform="rotate(-8 677.9 735.6)"/>
<ellipse cx="678.7" cy="735.6" rx="4.0" ry="5.1" fill="#c3d1d6"  transform="rotate(-8 678.7 735.6)"/>
<ellipse cx="678.7" cy="735.6" rx="2.2" ry="2.8" fill="#8a9aa1"  transform="rotate(-8 678.7 735.6)"/>
<ellipse cx="678.7" cy="735.6" rx="1.0" ry="1.3" fill="#3a474d"  transform="rotate(-8 678.7 735.6)"/>
<ellipse cx="701.5" cy="745.9" rx="7.2" ry="8.9" fill="#1c2a2f"  transform="rotate(-8 701.5 745.9)"/>
<ellipse cx="698.4" cy="747.4" rx="6.5" ry="8.2" fill="#26353b"  transform="rotate(-8 698.4 747.4)"/>
<ellipse cx="699.2" cy="747.4" rx="4.0" ry="5.1" fill="#c3d1d6"  transform="rotate(-8 699.2 747.4)"/>
<ellipse cx="699.2" cy="747.4" rx="2.2" ry="2.8" fill="#8a9aa1"  transform="rotate(-8 699.2 747.4)"/>
<ellipse cx="699.2" cy="747.4" rx="1.0" ry="1.3" fill="#3a474d"  transform="rotate(-8 699.2 747.4)"/>
<ellipse cx="741.8" cy="770.7" rx="7.2" ry="8.9" fill="#1c2a2f"  transform="rotate(-8 741.8 770.7)"/>
<ellipse cx="738.7" cy="772.2" rx="6.5" ry="8.2" fill="#26353b"  transform="rotate(-8 738.7 772.2)"/>
<ellipse cx="739.5" cy="772.2" rx="4.0" ry="5.1" fill="#c3d1d6"  transform="rotate(-8 739.5 772.2)"/>
<ellipse cx="739.5" cy="772.2" rx="2.2" ry="2.8" fill="#8a9aa1"  transform="rotate(-8 739.5 772.2)"/>
<ellipse cx="739.5" cy="772.2" rx="1.0" ry="1.3" fill="#3a474d"  transform="rotate(-8 739.5 772.2)"/>
<ellipse cx="763.5" cy="784.4" rx="7.2" ry="8.9" fill="#1c2a2f"  transform="rotate(-8 763.5 784.4)"/>
<ellipse cx="760.4" cy="785.9" rx="6.5" ry="8.2" fill="#26353b"  transform="rotate(-8 760.4 785.9)"/>
<ellipse cx="761.2" cy="785.9" rx="4.0" ry="5.1" fill="#c3d1d6"  transform="rotate(-8 761.2 785.9)"/>
<ellipse cx="761.2" cy="785.9" rx="2.2" ry="2.8" fill="#8a9aa1"  transform="rotate(-8 761.2 785.9)"/>
<ellipse cx="761.2" cy="785.9" rx="1.0" ry="1.3" fill="#3a474d"  transform="rotate(-8 761.2 785.9)"/>
<polygon points="668.0,685.4 747.4,722.6 757.7,761.0 736.8,753.0 668.6,719.2" fill="#e3b32b" />
<polygon points="682.3,699.6 692.2,704.6 685.4,723.2 674.8,718.2" fill="#c39b1f" />
<polygon points="701.5,708.9 711.4,713.9 704.6,732.5 694.0,727.5" fill="#c39b1f" />
<polygon points="720.1,718.2 730.0,723.2 723.2,741.8 712.7,736.8" fill="#c39b1f" />
<polygon points="737.5,726.9 747.4,731.9 740.6,750.5 730.0,745.5" fill="#c39b1f" />
<polygon points="668.0,685.4 706.5,662.4 774.1,701.9 747.4,722.6" fill="#e8b830" />
<polygon points="673.6,685.0 706.8,666.1 772.2,703.6 744.3,723.2" fill="#82652a" />
<polygon points="673.6,685.0 706.8,666.1 706.8,695.7 699.0,698.1" fill="#74591f" />
<polygon points="699.0,698.1 706.8,695.7 745.5,717.6 742.4,724.4" fill="#6b501d" />
<polygon points="747.4,722.6 774.1,701.9 787.7,719.5 787.7,736.8 757.7,761.0" fill="#d9a928" />
<polygon points="750.5,735.6 774.1,744.3 757.9,760.4" fill="#b98f20" />
<polygon points="748.0,719.7 784.6,696.9 804.8,707.7 767.9,729.7" fill="#eec55a" />
<polygon points="757.7,740.0 779.7,750.7 779.7,785.9 760.4,775.3" fill="#dd9b20" />
<polygon points="757.7,740.0 798.9,717.4 818.7,727.5 779.7,750.7" fill="#eeb92a" />
<polygon points="779.7,750.7 818.7,727.5 823.9,735.6 823.9,768.5 780.3,787.1" fill="#efb828" />
<polygon points="782.1,753.6 817.5,733.4 821.0,737.5 821.0,749.3 783.7,769.4" fill="#2f6a82" />
<polygon points="782.1,753.6 817.5,733.4 821.0,737.5 785.2,757.9" fill="#3b7c94" />
<polygon points="761.7,745.5 769.7,749.5 769.7,762.3 762.3,758.6" fill="#173a54" />
<polygon points="772.2,750.7 777.8,753.7 777.8,766.6 772.2,763.6" fill="#173a54" />
<polygon points="794.5,771.0 813.2,760.4 813.2,767.9 795.2,778.0" fill="#2b3038" />
<polygon points="769.1,784.6 780.3,790.2 825.2,767.6 825.2,774.1 781.5,797.9 769.1,791.4" fill="#2a3a40" />
<polygon points="783.4,790.0 786.5,788.5 786.5,793.3 783.4,794.8" fill="#e2552a" />
<polygon points="823.1,767.6 825.2,766.6 825.2,771.6 823.1,772.6" fill="#e2552a" />
<polygon points="798.9,781.8 810.7,775.9 810.7,779.0 798.9,785.0" fill="#cfd6da" />
<polygon points="789.0,786.5 793.9,784.0 793.9,787.7 789.0,790.2" fill="#9fb4be" />
<polygon points="815.6,772.8 821.8,769.7 821.8,773.4 815.6,776.6" fill="#9fb4be" />
<polygon points="876.3,854.4 888.5,845.0 965.8,885.6 1020.1,872.1 1026.8,885.6 982.1,911.4 971.2,916.8 948.2,897.9" fill="#7a6448" />
<path d="M883.1,839.5C884.0,835.7 885.1,831.4 889.2,829.4C893.2,827.3 894.0,826.2 903.4,829.4C912.8,832.5 923.8,838.3 936.0,845.0C948.2,851.6 958.6,857.2 964.4,862.6C970.3,868.0 968.7,868.4 965.1,872.1C961.6,875.7 956.4,882.0 946.8,880.9C937.2,879.8 927.8,871.8 917.0,866.7C906.1,861.5 899.1,858.8 892.6,855.1C886.0,851.5 886.3,851.5 884.4,848.3C882.5,845.2 882.1,843.3 883.1,839.5Z" fill="#353236" />
<polygon points="889.8,836.8 900.7,832.1 950.2,858.5 948.2,870.0 907.5,853.8 891.9,847.0" fill="#dcb436" />
<circle cx="898.7" cy="842.9" r="9.8" fill="#b9922a" />
<circle cx="898.7" cy="842.9" r="6.8" fill="#dcb436" />
<circle cx="898.7" cy="842.9" r="2.4" fill="#3a3638" />
<circle cx="899.3" cy="839.5" r="1.9" fill="#3a3638" />
<circle cx="914.3" cy="849.0" r="1.9" fill="#3a3638" />
<circle cx="925.1" cy="854.4" r="1.9" fill="#3a3638" />
<circle cx="940.7" cy="863.9" r="1.9" fill="#3a3638" />
<polygon points="906.1,838.2 931.9,828.7 964.4,852.4 964.4,863.3 949.5,858.5" fill="#48454a" />
<line x1="914.3" y1="836.8" x2="927.1" y2="831.4" stroke="#2a282c" stroke-width="1.2" />
<line x1="924.4" y1="842.5" x2="937.3" y2="837.1" stroke="#2a282c" stroke-width="1.2" />
<line x1="934.6" y1="848.2" x2="947.5" y2="842.8" stroke="#2a282c" stroke-width="1.2" />
<line x1="944.8" y1="853.9" x2="957.7" y2="848.5" stroke="#2a282c" stroke-width="1.2" />
<line x1="955.0" y1="859.6" x2="967.8" y2="854.2" stroke="#2a282c" stroke-width="1.2" />
<polygon points="885.8,823.9 900.7,815.1 930.5,831.4 914.3,838.2" fill="#e9c650" />
<polygon points="885.8,823.9 914.3,838.2 914.3,840.2 885.8,826.0" fill="#b9922a" />
<polygon points="893.2,821.9 899.3,813.8 907.5,817.8 906.1,826.0 900.7,828.0" fill="#8a6a20" />
<polygon points="931.9,820.5 957.7,805.6 976.0,816.5 949.5,831.4" fill="#3f3c3f" />
<polygon points="931.9,820.5 949.5,831.4 949.5,845.0 931.9,836.8" fill="#4c494c" />
<polygon points="949.5,831.4 976.0,816.5 976.0,826.0 949.5,845.0" fill="#353235" />
<polygon points="957.7,827.3 976.7,816.5 990.2,826.0 990.2,850.4 968.5,862.6 957.7,853.1" fill="#dcb436" />
<polygon points="965.8,843.6 990.2,831.4 990.2,850.4 968.5,862.6" fill="#a8882a" />
<polygon points="965.1,839.5 990.9,826.6 990.9,830.7 965.1,843.6" fill="#3a3638" />
<circle cx="970.1" cy="833.0" r="2.0" fill="#f6f6f6" />
<circle cx="970.1" cy="833.0" r="0.9" fill="#c9d0d4" />
<circle cx="982.8" cy="826.0" r="2.0" fill="#f6f6f6" />
<circle cx="982.8" cy="826.0" r="0.9" fill="#c9d0d4" />
<circle cx="988.5" cy="831.4" r="2.0" fill="#f6f6f6" />
<circle cx="988.5" cy="831.4" r="0.9" fill="#c9d0d4" />
<circle cx="968.9" cy="842.5" r="2.0" fill="#f6f6f6" />
<circle cx="968.9" cy="842.5" r="0.9" fill="#c9d0d4" />
<polygon points="900.7,790.7 911.5,795.4 911.5,826.0 900.7,817.8" fill="#2f2d31" />
<polygon points="911.5,795.4 930.5,797.5 930.5,831.4 911.5,826.0" fill="#2f2d31" />
<polygon points="930.5,797.5 957.7,781.9 957.7,807.0 933.3,820.5 930.5,831.4" fill="#2f2d31" />
<polygon points="902.3,795.4 909.9,799.1 909.9,817.6 902.3,812.7" fill="#8ecae0" />
<polygon points="914.3,800.5 927.6,799.1 927.6,821.9 914.3,818.5" fill="#8ecae0" />
<polygon points="933.3,800.2 956.6,787.3 956.6,804.3 933.3,816.5" fill="#8ecae0" />
<polygon points="900.7,790.0 904.8,778.8 940.0,759.5 957.0,770.3 957.9,781.9 930.5,797.5 911.5,795.4" fill="#dcb436" />
<polygon points="914.9,777.1 932.6,769.0 946.8,777.8 930.5,787.3" fill="#e9c650" />
<line x1="919.7" y1="775.1" x2="932.6" y2="769.7" stroke="#b9922a" stroke-width="1" />
<line x1="923.8" y1="777.5" x2="936.6" y2="772.1" stroke="#b9922a" stroke-width="1" />
<line x1="927.8" y1="780.0" x2="940.7" y2="774.6" stroke="#b9922a" stroke-width="1" />
<line x1="931.9" y1="782.4" x2="944.8" y2="777.0" stroke="#b9922a" stroke-width="1" />
<polygon points="936.6,794.8 941.4,792.3 941.4,796.1 936.6,798.6" fill="#bfe3ee" />
<polygon points="948.2,788.3 953.6,785.3 953.6,789.3 948.2,792.1" fill="#bfe3ee" />
<polygon points="895.5,780.5 900.4,780.5 900.4,793.4 895.5,790.7" fill="#dcb436" />
<ellipse cx="898.0" cy="779.2" rx="4.1" ry="2.2" fill="#e9c650" />
<line x1="944.8" y1="813.1" x2="959.7" y2="845.0" stroke="#8a7222" stroke-width="5.5" />
<line x1="959.7" y1="845.0" x2="968.5" y2="865.3" stroke="#9aa0a6" stroke-width="3" />
<line x1="978.0" y1="795.4" x2="993.6" y2="826.0" stroke="#8a7222" stroke-width="5.5" />
<line x1="993.6" y1="826.0" x2="1002.4" y2="845.0" stroke="#9aa0a6" stroke-width="3" />
<polygon points="957.0,871.4 1018.7,843.6 1021.4,853.1 1009.2,859.9 969.9,880.2 963.1,888.4 957.7,885.6" fill="#dcb436" />
<polygon points="957.0,871.4 968.5,876.2 969.9,891.1 963.1,893.8 957.7,885.6" fill="#e9c650" />
<polygon points="969.9,876.8 1018.7,851.7 1021.4,853.1 1009.2,859.9 969.9,880.2" fill="#b9922a" />
<path d="M958.6,885.6Q961.1,906.0 975.6,915.2Q966.5,904.6 964.0,884.3Z" fill="#dcb436" />
<path d="M961.7,885.6Q964.0,906.0 975.6,915.2" fill="none" stroke="#b9922a" stroke-width="1"/>
<circle cx="972.6" cy="910.1" r="0.7" fill="#f3efe0" />
<path d="M972.9,877.5Q975.3,897.9 988.2,907.6Q980.7,896.5 978.3,876.2Z" fill="#dcb436" />
<path d="M976.0,877.5Q978.3,897.9 988.2,907.6" fill="none" stroke="#b9922a" stroke-width="1"/>
<circle cx="985.2" cy="902.5" r="0.7" fill="#f3efe0" />
<path d="M985.7,870.7Q988.2,890.4 1000.8,899.9Q993.6,889.0 991.2,869.4Z" fill="#dcb436" />
<path d="M988.9,870.7Q991.2,890.4 1000.8,899.9" fill="none" stroke="#b9922a" stroke-width="1"/>
<circle cx="997.8" cy="894.7" r="0.7" fill="#f3efe0" />
<path d="M998.0,862.6Q1000.0,883.6 1012.6,893.5Q1005.4,882.3 1003.4,861.2Z" fill="#dcb436" />
<path d="M1001.1,862.6Q1003.0,883.6 1012.6,893.5" fill="none" stroke="#b9922a" stroke-width="1"/>
<circle cx="1009.6" cy="888.4" r="0.7" fill="#f3efe0" />
<path d="M1010.8,853.1Q1011.9,875.5 1024.4,885.6Q1017.4,874.1 1016.3,851.7Z" fill="#dcb436" />
<path d="M1014.0,853.1Q1014.9,875.5 1024.4,885.6" fill="none" stroke="#b9922a" stroke-width="1"/>
<circle cx="1021.4" cy="880.5" r="0.7" fill="#f3efe0" />
<polygon points="1284.7,794.7 1302.1,804.0 1334.7,813.3 1353.3,830.7 1423.0,790.0 1420.7,780.7 1346.3,806.3 1311.4,794.7" fill="#7a6448" />
<polygon points="1241.6,821.4 1285.8,801.6 1304.4,806.3 1334.7,813.3 1318.4,820.2 1278.8,829.5 1253.3,828.4" fill="#8a7352" />
<path d="M1287.0,783.0C1287.9,778.4 1290.2,775.1 1295.1,771.4C1300.0,767.7 1304.4,764.4 1311.4,764.4C1318.4,764.4 1328.1,767.9 1330.0,771.4C1331.9,774.9 1324.0,777.2 1320.7,781.9C1317.4,786.5 1317.0,790.6 1313.7,794.7C1310.5,798.7 1309.1,802.2 1304.4,802.2C1299.8,802.2 1294.0,798.5 1290.5,794.7C1287.0,790.8 1286.0,787.7 1287.0,783.0Z" fill="#3a3638" />
<ellipse cx="1309.1" cy="790.0" rx="5.2" ry="8.7" fill="#d9b030"  transform="rotate(20 1309.1 790.0)"/>
<ellipse cx="1311.4" cy="789.4" rx="3.3" ry="6.4" fill="#3a3638"  transform="rotate(20 1311.4 789.4)"/>
<polygon points="1311.4,783.0 1341.6,771.4 1346.3,794.7 1334.7,810.9 1313.7,794.7" fill="#2a2a2e" />
<line x1="1290.5" y1="780.7" x2="1304.4" y2="787.7" stroke="#555157" stroke-width="1" />
<line x1="1295.1" y1="777.4" x2="1309.1" y2="784.4" stroke="#555157" stroke-width="1" />
<line x1="1299.8" y1="774.2" x2="1313.7" y2="781.2" stroke="#555157" stroke-width="1" />
<line x1="1304.4" y1="770.9" x2="1318.4" y2="777.9" stroke="#555157" stroke-width="1" />
<line x1="1309.1" y1="767.7" x2="1323.0" y2="774.7" stroke="#555157" stroke-width="1" />
<path d="M1333.5,810.9C1334.1,807.2 1328.6,806.1 1341.6,799.3C1354.6,792.5 1398.2,774.2 1411.4,770.2C1424.6,766.3 1418.9,772.4 1420.7,775.5C1422.5,778.6 1433.3,780.0 1422.4,788.8C1411.6,797.7 1369.6,822.8 1355.6,828.4C1341.5,833.9 1341.8,824.9 1338.1,822.0C1334.5,819.1 1332.9,814.7 1333.5,810.9Z" fill="#3a3638" />
<polygon points="1347.4,807.4 1411.4,778.4 1413.7,787.7 1357.9,817.9" fill="#55555a" />
<ellipse cx="1356.2" cy="815.6" rx="5.8" ry="7.9" fill="#e0b83c"  transform="rotate(15 1356.2 815.6)"/>
<ellipse cx="1356.2" cy="815.6" rx="2.6" ry="3.5" fill="#b8902a"  transform="rotate(15 1356.2 815.6)"/>
<ellipse cx="1410.2" cy="785.3" rx="5.8" ry="7.9" fill="#e0b83c"  transform="rotate(15 1410.2 785.3)"/>
<ellipse cx="1410.2" cy="785.3" rx="2.6" ry="3.5" fill="#b8902a"  transform="rotate(15 1410.2 785.3)"/>
<polygon points="1247.4,710.3 1255.0,708.6 1258.8,711.5 1260.5,742.3 1259.1,812.1 1253.8,822.6 1247.4,817.9 1246.3,759.8 1245.3,724.9" fill="#e6bd45" />
<polygon points="1247.4,710.3 1250.3,709.8 1249.2,759.8 1250.3,817.9 1247.4,817.9 1246.3,759.8 1245.3,724.9" fill="#c79c2c" />
<line x1="1245.7" y1="753.4" x2="1247.4" y2="816.7" stroke="#a0a4a9" stroke-width="3.2" />
<line x1="1246.9" y1="792.3" x2="1247.4" y2="816.7" stroke="#dfe2e4" stroke-width="2.4" />
<polygon points="1259.1,790.2 1264.9,783.0 1286.0,794.7 1284.7,812.1 1276.5,827.2 1268.4,827.8 1259.1,823.7 1253.8,820.2" fill="#d9b030" />
<polygon points="1260.8,791.4 1264.9,785.1 1284.1,796.0 1282.9,806.3 1264.9,815.6" fill="#8a6e22" />
<polygon points="1265.5,784.2 1266.4,779.8 1268.0,785.6" fill="#d9b030" />
<polygon points="1269.4,786.5 1270.3,782.1 1272.0,787.9" fill="#d9b030" />
<polygon points="1273.4,788.8 1274.3,784.4 1275.9,790.2" fill="#d9b030" />
<polygon points="1277.3,791.2 1278.3,786.7 1279.9,792.6" fill="#d9b030" />
<polygon points="1281.3,793.5 1282.2,789.1 1283.8,794.9" fill="#d9b030" />
<circle cx="1253.3" cy="820.2" r="1.6" fill="#9a9ea3" />
<circle cx="1258.5" cy="815.6" r="1.4" fill="#9a9ea3" />
<path d="M1259.1,741.2C1264.0,734.1 1273.6,725.2 1285.8,716.7C1298.0,708.3 1301.1,706.9 1311.4,705.1C1321.7,703.4 1322.9,704.6 1330.0,709.2C1337.1,713.8 1337.4,716.3 1341.6,724.9C1345.8,733.4 1349.0,740.4 1348.0,745.8C1347.1,751.2 1342.6,751.9 1337.6,748.1C1332.5,744.3 1332.6,735.0 1326.5,729.5C1320.4,724.1 1319.3,724.9 1311.4,724.9C1303.5,724.9 1303.6,724.4 1292.8,729.5C1281.9,734.7 1272.8,744.3 1264.9,747.0C1257.0,749.7 1254.2,748.2 1259.1,741.2Z" fill="#f0cb5a" />
<path d="M1264.9,747.0Q1290.5,728.4 1311.4,724.9Q1326.5,727.2 1337.6,748.1L1332.3,748.1Q1323.0,731.9 1311.4,730.1Q1292.8,734.2 1268.4,748.1Z" fill="#c79c2c" />
<line x1="1259.1" y1="710.7" x2="1276.5" y2="708.6" stroke="#dfe2e4" stroke-width="2.6" />
<line x1="1276.5" y1="708.6" x2="1303.3" y2="706.3" stroke="#9a9ea3" stroke-width="4" />
<line x1="1327.7" y1="717.9" x2="1334.7" y2="738.8" stroke="#b8bcc1" stroke-width="3" />
<line x1="1333.5" y1="736.5" x2="1340.5" y2="748.1" stroke="#8e9297" stroke-width="4.5" />
<line x1="1314.9" y1="729.5" x2="1321.9" y2="750.5" stroke="#9a9ea3" stroke-width="4" />
<circle cx="1326.5" cy="715.6" r="3.0" fill="#7d8186" />
<circle cx="1306.2" cy="708.6" r="1.6" fill="#7d8186" />
<circle cx="1260.5" cy="742.6" r="1.9" fill="#8e9297" />
<path d="M1306.7,707.4Q1313.7,697.0 1323.0,707.4" fill="none" stroke="#222" stroke-width="1.4"/>
<path d="M1249.8,759.8Q1250.9,741.2 1264.9,734.2Q1274.2,728.4 1261.4,723.7" fill="none" stroke="#222" stroke-width="1.4"/>
<path d="M1313.1,731.9Q1304.4,750.5 1310.2,759.8" fill="none" stroke="#222" stroke-width="1.2"/>
<path d="M1311.4,756.3C1313.4,753.8 1316.5,749.8 1321.9,750.5C1327.2,751.2 1334.8,754.9 1338.1,759.8C1341.5,764.7 1341.3,772.8 1338.7,774.9C1336.2,777.0 1330.7,772.7 1325.3,770.2C1320.0,767.8 1314.8,765.5 1312.0,762.7C1309.2,759.9 1309.4,758.7 1311.4,756.3Z" fill="#e6bd45" />
<polygon points="1353.3,741.2 1355.6,721.4 1366.0,719.1 1395.1,741.2 1390.5,750.5 1376.5,753.4" fill="#4d4d50" />
<polygon points="1343.4,728.4 1355.6,720.5 1366.0,724.9 1353.3,741.2 1346.3,744.7" fill="#e6bd45" />
<polygon points="1376.5,753.4 1395.1,741.2 1407.9,748.1 1408.5,771.4 1377.7,791.2" fill="#e6bd45" />
<polygon points="1378.8,786.5 1397.4,755.1 1407.9,756.3 1408.5,771.4" fill="#3f3f43" />
<polygon points="1395.1,764.4 1407.9,756.3 1408.5,771.4 1395.1,778.4" fill="#4a4a4e" />
<polygon points="1353.8,733.0 1364.9,726.0 1374.2,730.7 1363.7,737.7" fill="#55555a" />
<polygon points="1354.4,739.4 1369.5,731.9 1385.2,740.2 1370.7,748.7" fill="#e6bd45" />
<line x1="1359.1" y1="738.3" x2="1371.3" y2="732.4" stroke="#c79c2c" stroke-width="0.9" />
<line x1="1362.3" y1="740.0" x2="1374.5" y2="734.2" stroke="#c79c2c" stroke-width="0.9" />
<line x1="1365.6" y1="741.7" x2="1377.8" y2="735.9" stroke="#c79c2c" stroke-width="0.9" />
<line x1="1368.8" y1="743.5" x2="1381.0" y2="737.7" stroke="#c79c2c" stroke-width="0.9" />
<line x1="1372.1" y1="745.2" x2="1384.3" y2="739.4" stroke="#c79c2c" stroke-width="0.9" />
<polygon points="1339.3,749.3 1353.3,741.2 1376.7,753.4 1377.9,771.4 1361.4,796.4 1339.3,785.6" fill="#4a4a4e" />
<polygon points="1341.4,750.5 1357.9,758.8 1356.7,790.6 1341.4,783.0" fill="#7ccde0" />
<polygon points="1341.4,750.5 1357.9,758.8 1357.7,764.4 1341.4,756.3" fill="#a5dcea" />
<polygon points="1361.4,762.7 1375.3,753.7 1374.2,769.1 1361.4,784.4" fill="#66bfd6" />
<circle cx="1361.4" cy="753.7" r="3.0" fill="#e6bd45" />
<polygon points="1338.1,785.3 1361.4,796.0 1409.1,770.2 1409.1,774.0 1361.4,801.0 1338.1,790.2" fill="#e6bd45" />
<ellipse cx="730.8" cy="901.4" rx="10.4" ry="5.2" fill="#3c3228" fill-opacity="0.32"/>
<ellipse cx="726.1" cy="901.9" rx="4.0" ry="2.1" fill="#d67a1e" />
<ellipse cx="732.7" cy="899.5" rx="4.0" ry="2.1" fill="#d67a1e" />
<polygon points="721.9,869.3 727.7,869.3 727.2,901.4 722.3,901.4" fill="#dcb82c" />
<polygon points="728.3,869.3 734.1,869.3 734.0,898.6 728.9,898.6" fill="#c1a126" />
<polygon points="721.4,848.5 734.6,848.5 735.1,871.2 720.9,871.2" fill="#16404f" />
<polygon points="723.8,854.2 732.2,854.2 734.1,871.2 721.9,871.2" fill="#dcb82c" />
<polygon points="723.8,854.2 725.2,854.2 723.8,847.6 722.3,847.6" fill="#dcb82c" />
<polygon points="732.2,854.2 730.8,854.2 732.2,847.6 733.7,847.6" fill="#dcb82c" />
<path d="M722.3,851.4 L726.1,859.9 L735.6,863.6" fill="none" stroke="#16404f" stroke-width="4.0" stroke-linecap="round" stroke-linejoin="round"/>
<circle cx="735.6" cy="863.6" r="2.2" fill="#f3dccb" />
<path d="M733.7,851.4 L736.5,858.9 L738.4,865.5" fill="none" stroke="#16404f" stroke-width="4.0" stroke-linecap="round" stroke-linejoin="round"/>
<circle cx="738.4" cy="865.5" r="2.2" fill="#f3dccb" />
<ellipse cx="727.2" cy="842.7" rx="4.0" ry="4.3" fill="#6a4a2a" />
<circle cx="729.3" cy="843.6" r="4.1" fill="#f3dccb" />
<path d="M722.7,841.6 a6.0,5.9 0 0 1 12.1,0 q-6.0,2.1 -12.1,0z" fill="#ea8c25" />
<polygon points="730.2,841.3 737.1,842.9 730.2,843.4" fill="#ea8c25" />
<polygon points="722.5,863.7 734.8,870.5 734.8,876.5 722.5,869.8" fill="#d98820" />
<polygon points="747.0,863.7 734.8,870.5 734.8,876.5 747.0,869.8" fill="#f0a030" />
<polygon points="734.8,857.0 747.0,863.7 734.8,870.5 722.5,863.7" fill="#f6b850" />
<polygon points="724.0,848.0 735.0,854.1 735.0,860.0 724.0,854.0" fill="#d98820" />
<polygon points="746.0,848.0 735.0,854.1 735.0,860.0 746.0,854.0" fill="#f0a030" />
<polygon points="735.0,842.0 746.0,848.0 735.0,854.1 724.0,848.0" fill="#f6b850" />
<polygon points="726.5,832.8 735.8,837.9 735.8,845.0 726.5,839.9" fill="#d98820" />
<polygon points="745.0,832.8 735.8,837.9 735.8,845.0 745.0,839.9" fill="#f0a030" />
<polygon points="735.8,827.7 745.0,832.8 735.8,837.9 726.5,832.8" fill="#f6b850" />
<ellipse cx="1073.8" cy="1014.1" rx="10.4" ry="5.2" fill="#3c3228" fill-opacity="0.32"/>
<ellipse cx="1069.1" cy="1014.6" rx="4.0" ry="2.1" fill="#d67a1e" />
<ellipse cx="1075.7" cy="1012.2" rx="4.0" ry="2.1" fill="#d67a1e" />
<polygon points="1064.9,982.0 1070.7,982.0 1070.2,1014.1 1065.3,1014.1" fill="#dcb82c" />
<polygon points="1071.3,982.0 1077.1,982.0 1077.0,1011.3 1071.9,1011.3" fill="#c1a126" />
<polygon points="1064.4,961.2 1077.6,961.2 1078.1,983.9 1063.9,983.9" fill="#16404f" />
<polygon points="1066.8,966.9 1075.2,966.9 1077.1,983.9 1064.9,983.9" fill="#dcb82c" />
<polygon points="1066.8,966.9 1068.2,966.9 1066.8,960.3 1065.3,960.3" fill="#dcb82c" />
<polygon points="1075.2,966.9 1073.8,966.9 1075.2,960.3 1076.7,960.3" fill="#dcb82c" />
<path d="M1064.4,963.1 L1063.0,972.6 L1063.9,982.0" fill="none" stroke="#16404f" stroke-width="4.0" stroke-linecap="round" stroke-linejoin="round"/>
<circle cx="1063.9" cy="982.0" r="2.2" fill="#f3dccb" />
<path d="M1076.7,964.1 L1082.3,970.7 L1088.0,974.4" fill="none" stroke="#16404f" stroke-width="4.0" stroke-linecap="round" stroke-linejoin="round"/>
<circle cx="1088.0" cy="974.4" r="2.2" fill="#f3dccb" />
<ellipse cx="1070.2" cy="955.4" rx="4.0" ry="4.3" fill="#6a4a2a" />
<circle cx="1072.3" cy="956.3" r="4.1" fill="#f3dccb" />
<path d="M1065.7,954.3 a6.0,5.9 0 0 1 12.1,0 q-6.0,2.1 -12.1,0z" fill="#ea8c25" />
<polygon points="1073.2,954.0 1080.1,955.6 1073.2,956.1" fill="#ea8c25" />
<ellipse cx="1255.0" cy="1000.0" rx="11.0" ry="5.5" fill="#3c3228" fill-opacity="0.32"/>
<ellipse cx="1250.0" cy="1000.5" rx="4.2" ry="2.2" fill="#d67a1e" />
<ellipse cx="1257.0" cy="998.0" rx="4.2" ry="2.2" fill="#d67a1e" />
<polygon points="1245.5,966.0 1251.7,966.0 1251.2,1000.0 1246.0,1000.0" fill="#dcb82c" />
<polygon points="1252.3,966.0 1258.5,966.0 1258.3,997.0 1253.0,997.0" fill="#c1a126" />
<polygon points="1245.0,944.0 1259.0,944.0 1259.5,968.0 1244.5,968.0" fill="#16404f" />
<polygon points="1247.5,950.0 1256.5,950.0 1258.5,968.0 1245.5,968.0" fill="#dcb82c" />
<polygon points="1247.5,950.0 1249.0,950.0 1247.5,943.0 1246.0,943.0" fill="#dcb82c" />
<polygon points="1256.5,950.0 1255.0,950.0 1256.5,943.0 1258.0,943.0" fill="#dcb82c" />
<path d="M1245.0,946.0 L1243.5,956.0 L1244.5,966.0" fill="none" stroke="#16404f" stroke-width="4.2" stroke-linecap="round" stroke-linejoin="round"/>
<circle cx="1244.5" cy="966.0" r="2.3" fill="#f3dccb" />
<path d="M1258.0,947.0 L1264.0,954.0 L1270.0,958.0" fill="none" stroke="#16404f" stroke-width="4.2" stroke-linecap="round" stroke-linejoin="round"/>
<circle cx="1270.0" cy="958.0" r="2.3" fill="#f3dccb" />
<ellipse cx="1251.2" cy="937.8" rx="4.2" ry="4.6" fill="#6a4a2a" />
<circle cx="1253.4" cy="938.8" r="4.3" fill="#f3dccb" />
<path d="M1246.4,936.7 a6.4,6.2 0 0 1 12.8,0 q-6.4,2.2 -12.8,0z" fill="#ea8c25" />
<polygon points="1254.3,936.4 1261.6,938.0 1254.3,938.6" fill="#ea8c25" />
<ellipse cx="1290.8" cy="996.2" rx="10.1" ry="5.0" fill="#3c3228" fill-opacity="0.32"/>
<ellipse cx="1283.4" cy="996.6" rx="3.9" ry="2.0" fill="#d67a1e" />
<ellipse cx="1289.8" cy="994.3" rx="3.9" ry="2.0" fill="#d67a1e" />
<polygon points="1282.0,965.0 1287.7,965.0 1287.3,996.2 1282.5,996.2" fill="#dcb82c" />
<polygon points="1288.3,965.0 1294.0,965.0 1293.8,993.4 1288.9,993.4" fill="#dcb82c" />
<polygon points="1282.0,965.0 1287.7,965.0 1287.3,996.2 1282.5,996.2" fill="#c1a126" />
<polygon points="1281.6,944.8 1294.4,944.8 1294.9,966.8 1281.1,966.8" fill="#16404f" />
<polygon points="1283.9,950.3 1292.1,950.3 1294.0,966.8 1282.0,966.8" fill="#dcb82c" />
<polygon points="1283.9,950.3 1285.2,950.3 1283.9,943.9 1282.5,943.9" fill="#dcb82c" />
<polygon points="1292.1,950.3 1290.8,950.3 1292.1,943.9 1293.5,943.9" fill="#dcb82c" />
<path d="M1294.4,946.7 L1295.8,955.8 L1294.9,965.0" fill="none" stroke="#16404f" stroke-width="3.9" stroke-linecap="round" stroke-linejoin="round"/>
<circle cx="1294.9" cy="965.0" r="2.1" fill="#f3dccb" />
<path d="M1282.5,947.6 L1277.0,954.0 L1271.5,957.7" fill="none" stroke="#16404f" stroke-width="3.9" stroke-linecap="round" stroke-linejoin="round"/>
<circle cx="1271.5" cy="957.7" r="2.1" fill="#f3dccb" />
<ellipse cx="1288.7" cy="939.1" rx="3.9" ry="4.2" fill="#6a4a2a" />
<circle cx="1286.7" cy="940.1" r="3.9" fill="#f3dccb" />
<path d="M1281.4,938.1 a5.9,5.7 0 0 1 11.7,0 q-5.9,2.0 -11.7,0z" fill="#ea8c25" />
<polygon points="1285.9,937.9 1279.2,939.3 1285.9,939.9" fill="#ea8c25" />
<polygon points="1199.9,1038.2 1205.9,1038.2 1205.9,1143.5 1199.9,1143.5" fill="#d9d5cc" />
<polygon points="1198.1,1141.6 1207.8,1141.6 1210.5,1146.3 1195.6,1146.3" fill="#c9c5bc" />
<polygon points="1197.5,1037.3 1208.7,1037.3 1208.7,1039.1 1197.5,1039.1" fill="#c9c9c9" />
<polygon points="1185.8,1042.5 1219.9,1042.5 1219.9,1059.2 1185.8,1059.2" fill="#c9c9c9" />
<polygon points="1186.9,1043.6 1218.7,1043.6 1218.7,1058.1 1186.9,1058.1" fill="#7a1a14" />
<line x1="1188.0" y1="1045.5" x2="1217.4" y2="1045.5" stroke="#e0503a" stroke-width="1.6" stroke-dasharray="2.2 1.2"/>
<line x1="1188.0" y1="1048.8" x2="1217.4" y2="1048.8" stroke="#e0503a" stroke-width="1.6" stroke-dasharray="2.2 1.2"/>
<line x1="1188.0" y1="1052.2" x2="1217.4" y2="1052.2" stroke="#e0503a" stroke-width="1.6" stroke-dasharray="2.2 1.2"/>
<line x1="1188.0" y1="1055.5" x2="1217.4" y2="1055.5" stroke="#e0503a" stroke-width="1.6" stroke-dasharray="2.2 1.2"/>
<line x1="1196.0" y1="1070.8" x2="1196.0" y2="1093.2" stroke="#a9a9a9" stroke-width="1.4" />
<line x1="1193.2" y1="1070.8" x2="1198.8" y2="1070.8" stroke="#a9a9a9" stroke-width="1.2" />
<line x1="1209.6" y1="1065.2" x2="1209.6" y2="1093.2" stroke="#555" stroke-width="1" />
<ellipse cx="1209.6" cy="1070.4" rx="2.0" ry="4.1" fill="#2a2a2a" />
<path d="M1185.4,1089.4L1191.9,1087.6M1188.2,1086.6L1188.2,1093.2L1198.4,1096.9M1213.3,1096.9L1220.8,1093.2L1220.8,1087.6M1218.0,1088.5L1224.1,1086.1" fill="none" stroke="#3a3a3a" stroke-width="1.3"/>
<circle cx="1185.8" cy="1089.1" r="1.3" fill="#2a2a2a" />
<circle cx="1192.1" cy="1087.6" r="1.3" fill="#2a2a2a" />
<circle cx="1217.4" cy="1089.1" r="1.3" fill="#2a2a2a" />
<path d="M1187.3,1096.9Q1183.5,1104.3 1192.9,1104.3M1214.3,1096.9Q1224.5,1100.6 1215.2,1107.1" fill="none" stroke="#8a8a8a" stroke-width="0.8"/>
<polygon points="1191.4,1095.0 1215.2,1095.0 1215.2,1126.7 1191.4,1126.7" fill="url(#gEnv)" />
<polygon points="1190.1,1093.2 1216.1,1093.2 1215.2,1095.4 1191.4,1095.4" fill="#8e969c" />
<polygon points="1191.9,1123.0 1214.8,1123.0 1214.8,1125.9 1191.9,1125.9" fill="#2f4a8a" />
<polygon points="1234.2,1076.8 1254.3,1070.8 1277.6,1072.7 1277.6,1087.6 1251.5,1095.0 1234.2,1089.8" fill="#e8a520" />
<polygon points="1234.2,1076.8 1251.5,1080.5 1251.5,1095.0 1234.2,1089.8" fill="#c98a18" />
<polygon points="1251.5,1080.5 1264.0,1078.2 1264.0,1092.2 1251.5,1095.0" fill="#f0b83a" />
<polygon points="1237.6,1073.0 1254.3,1069.9 1269.2,1073.6 1251.5,1077.9" fill="#dfe6f2" />
<polygon points="1234.2,1076.8 1254.3,1070.8 1277.6,1072.7 1251.5,1080.5" fill="#8a949c" fill-opacity="0.0"/>
<path d="M1234.2,1076.8L1251.5,1080.5L1277.6,1072.7M1251.5,1080.5L1251.5,1095.0M1264.0,1078.2L1264.0,1092.2" fill="none" stroke="#4a6a8a" stroke-width="1"/>
<line x1="1234.8" y1="1089.1" x2="1234.8" y2="1092.4" stroke="#8a8a8a" stroke-width="1" />
<circle cx="1234.8" cy="1092.8" r="0.9" fill="#9a9a9a" />
<line x1="1251.5" y1="1095.9" x2="1251.5" y2="1099.3" stroke="#8a8a8a" stroke-width="1" />
<circle cx="1251.5" cy="1099.7" r="0.9" fill="#9a9a9a" />
<line x1="1277.6" y1="1087.2" x2="1277.6" y2="1090.5" stroke="#8a8a8a" stroke-width="1" />
<circle cx="1277.6" cy="1090.9" r="0.9" fill="#9a9a9a" />
<line x1="1261.8" y1="1092.2" x2="1261.8" y2="1095.6" stroke="#8a8a8a" stroke-width="1" />
<circle cx="1261.8" cy="1095.9" r="0.9" fill="#9a9a9a" />
<path d="M1257.1,1071.7L1259.0,1059.6L1269.2,1055.9M1269.2,1070.8L1269.2,1054.0" fill="none" stroke="#4a6a8a" stroke-width="2"/>
<path d="M1246.9,1045.6C1249.1,1044.8 1248.7,1045.6 1254.3,1046.6C1260.0,1047.6 1266.4,1047.8 1271.1,1049.9C1275.8,1052.1 1274.2,1053.0 1274.5,1055.9C1274.7,1058.8 1274.6,1061.3 1272.0,1062.4C1269.5,1063.5 1269.3,1062.1 1263.6,1060.5C1258.0,1059.0 1252.2,1058.3 1247.8,1055.9C1243.4,1053.5 1244.9,1052.7 1244.6,1050.3C1244.4,1047.9 1244.6,1046.5 1246.9,1045.6Z" fill="#e8a520" />
<ellipse cx="1246.9" cy="1050.7" rx="3.0" ry="5.6" fill="#f0c050"  transform="rotate(-12 1246.9 1050.7)"/>
<ellipse cx="1247.3" cy="1050.7" rx="1.7" ry="3.7" fill="#b87a14"  transform="rotate(-12 1247.3 1050.7)"/>
<ellipse cx="1272.0" cy="1056.3" rx="2.2" ry="6.0" fill="#c98a18"  transform="rotate(-8 1272.0 1056.3)"/>
<line x1="1268.5" y1="1052.2" x2="1268.5" y2="1061.5" stroke="#3a3a3a" stroke-width="1.2" />
<polygon points="42.0,536.5 935.0,1052.1 935.0,1137.3 42.0,621.7" fill="#dddddd" />
<polygon points="79.0,546.9 935.0,1041.1 935.0,1052.1 79.0,557.9" fill="#b9b9bc" />
<polygon points="1165.0,1190.8 1890.0,772.2 1890.0,859.9 1165.0,1278.5" fill="url(#gSE)" />
<polygon points="1165.0,1179.8 1890.0,761.2 1890.0,772.2 1165.0,1190.8" fill="#adadaf" />
<polygon points="132.4,422.7 153.6,434.4 153.6,556.4 132.4,544.7" fill="#77726f" />
<polygon points="174.8,422.7 153.6,434.4 153.6,556.4 174.8,544.7" fill="#8c8c8c" />
<polygon points="153.6,411.0 174.8,422.7 153.6,434.4 132.4,422.7" fill="#b3adab" />
<rect x="178.7" y="452.7" width="11.2" height="6.3" fill="#e9e9ec" />
<ellipse cx="185.0" cy="461.1" rx="6.6" ry="5.6" fill="#dcdce0" />
<circle cx="185.0" cy="466.0" r="7.0" fill="#f2f2f4" />
<circle cx="185.5" cy="467.5" r="4.3" fill="#17181c" />
<circle cx="185.5" cy="467.5" r="2.0" fill="#3a3d48" />
<polygon points="95.5,502.6 145.0,465.3 145.0,522.0 95.5,541.7" fill="#e28b28" />
<polygon points="41.7,523.2 89.6,506.3 89.6,548.2 41.7,585.0" fill="#e28b28" />
<polygon points="0.0,498.3 21.0,510.3 21.0,633.8 0.0,621.8" fill="#77726f" />
<polygon points="42.0,498.3 21.0,510.3 21.0,633.8 42.0,621.8" fill="#8c8c8c" />
<polygon points="21.0,486.3 42.0,498.3 21.0,510.3 0.0,498.3" fill="#b3adab" />
<polygon points="923.4,1014.0 948.4,1027.5 948.4,1175.5 923.4,1162.0" fill="#77726f" />
<polygon points="973.4,1014.0 948.4,1027.5 948.4,1175.5 973.4,1162.0" fill="#8c8c8c" />
<polygon points="948.4,1000.5 973.4,1014.0 948.4,1027.5 923.4,1014.0" fill="#b3adab" />
<circle cx="966.5" cy="1109.0" r="2.4" fill="#6c6c6c" />
<polygon points="908.0,1043.0 924.0,1036.5 931.0,1040.0 931.0,1046.0 916.0,1052.0 908.0,1049.0" fill="#8e9499" />
<polygon points="908.0,1043.0 916.0,1046.5 916.0,1052.0 908.0,1049.0" fill="#d9dcde" />
<polygon points="908.0,1043.0 924.0,1036.5 931.0,1040.0 916.0,1046.5" fill="#6a7076" />
<rect x="916.5" y="1049.0" width="5.0" height="9.0" fill="#3a3f44" />
<rect x="902.0" y="1057.0" width="34.0" height="65.0" fill="#3f454a" rx="3"/>
<rect x="933.0" y="1059.0" width="3.0" height="61.0" fill="#596066" />
<rect x="903.5" y="1059.5" width="29.0" height="46.0" fill="#0b0607" rx="1.5"/>
<text x="906" y="1075" font-size="9" font-weight="bold" fill="#5d8068" style="font-family:'Liberation Serif',serif">P</text>
<circle cx="916.7" cy="1070.0" r="3.4" fill="#d8452b" />
<rect x="906.0" y="1080.0" width="9.0" height="1.4" fill="#d8d8d8" />
<rect x="917.0" y="1078.5" width="5.0" height="4.0" fill="#cfcfcf" />
<rect x="923.0" y="1080.0" width="7.0" height="1.4" fill="#d8d8d8" />
<rect x="908.5" y="1086.0" width="16.0" height="2.6" fill="#3f8a55" />
<rect x="906.5" y="1092.5" width="21.0" height="2.6" fill="#9a8a5a" />
<rect x="906.0" y="1099.0" width="11.0" height="3.6" fill="#a3231c" />
<rect x="918.5" y="1099.0" width="3.5" height="3.6" fill="#3d7a4a" />
<rect x="923.5" y="1099.0" width="5.0" height="3.6" fill="#a9a9a9" />
<rect x="911.5" y="1110.0" width="12.0" height="9.5" fill="#f4f4f4" />
<rect x="914.2" y="1110.0" width="0.7" height="9.5" fill="#9a9a9a" />
<rect x="917.2" y="1110.0" width="0.7" height="9.5" fill="#9a9a9a" />
<rect x="920.2" y="1110.0" width="0.7" height="9.5" fill="#9a9a9a" />
<polygon points="911.5,1122.0 927.0,1122.0 925.0,1182.0 913.5,1182.0" fill="#3d4348" />
<polygon points="911.5,1122.0 914.0,1122.0 915.0,1182.0 913.5,1182.0" fill="#555c62" />
<path d="M915.5,1132 l3.5,-3 3.5,3 M915.5,1137 l3.5,-3 3.5,3 M915.5,1142 l3.5,-3 3.5,3" fill="none" stroke="#555c62" stroke-width="0.8"/>
<polygon points="905.0,1186.0 911.0,1181.0 928.0,1181.0 932.5,1186.0 932.5,1190.0 905.0,1190.0" fill="#3a4045" />
<polygon points="905.0,1190.0 932.5,1190.0 930.0,1192.5 907.0,1192.5" fill="#2a2f33" />
<polygon points="960.3,1057.1 1115.8,1148.0 1115.8,1164.0 960.3,1072.1" fill="#ecc55a" />
<polygon points="977.4,1067.1 986.7,1072.5 986.7,1088.0 977.4,1082.6" fill="#4a4443" />
<polygon points="1004.7,1083.1 1013.5,1088.2 1013.5,1103.7 1004.7,1098.6" fill="#4a4443" />
<polygon points="1034.9,1100.7 1043.7,1105.9 1043.7,1121.4 1034.9,1116.2" fill="#4a4443" />
<polygon points="1064.7,1118.1 1072.8,1122.9 1072.8,1138.4 1064.7,1133.6" fill="#4a4443" />
<polygon points="1092.0,1134.1 1100.7,1139.2 1100.7,1154.7 1092.0,1149.6" fill="#4a4443" />
<polygon points="960.3,1070.1 1115.8,1162.0 1115.8,1164.0 960.3,1072.1" fill="#d9b048" />
<polygon points="1120.6,1128.4 1145.6,1142.4 1145.6,1290.1 1120.6,1276.1" fill="#77726f" />
<polygon points="1170.6,1128.4 1145.6,1142.4 1145.6,1290.1 1170.6,1276.1" fill="#8c8c8c" />
<polygon points="1145.6,1114.4 1170.6,1128.4 1145.6,1142.4 1120.6,1128.4" fill="#b3adab" />
<polygon points="2038.5,628.5 2063.0,643.0 2063.0,790.5 2038.5,776.0" fill="#77726f" />
<polygon points="2087.5,628.5 2063.0,643.0 2063.0,790.5 2087.5,776.0" fill="#8c8c8c" />
<polygon points="2063.0,614.0 2087.5,628.5 2063.0,643.0 2038.5,628.5" fill="#b3adab" />
<path d="M2024.0,703.8 L2059.0,688.0 L2059.0,782.8 Q2055.5,794.0 2027.5,802.0 L2024.0,800.0 Z" fill="url(#gT2024)" />
<ellipse cx="2035.2" cy="735.9" rx="5.5" ry="7.0" fill="#1f2a24" transform="rotate(-25 2035.2 735.9)"/>
<path d="M2032.2,738.4 l3,-4 l1,1.5 l2.5,-1 l-3,4 l-1,-1.5z" fill="#3fcf5a" />
<rect x="2036.7" y="678.0" width="4.5" height="20.5" fill="#9ea3a7" />
<polygon points="2032.7,658.0 2045.7,652.0 2045.7,678.0 2032.7,684.0" fill="#23272c" />
<polygon points="2034.2,661.0 2044.2,656.0 2044.2,674.0 2034.2,679.0" fill="#3f86d8" />
<polygon points="2034.2,671.0 2044.2,666.0 2044.2,674.0 2034.2,679.0" fill="#2a62b0" />
<path d="M2002.5,740 L2025,723.7 L2025,769 Q2010,760 2002.5,740Z" fill="url(#gFan2)" />
<path d="M1972,746.4 L1997.4,745 Q1990,775 1972,796.8Z" fill="url(#gFan1)" />
<path d="M1932.0,747.5 L1973.5,728.8 L1973.5,835.7 Q1969.3,850.5 1936.2,858.5 L1932.0,856.5 Z" fill="url(#gT1932)" />
<ellipse cx="1945.3" cy="783.3" rx="5.5" ry="7.0" fill="#1f2a24" transform="rotate(-25 1945.3 783.3)"/>
<path d="M1942.3,785.8 l3,-4 l1,1.5 l2.5,-1 l-3,4 l-1,-1.5z" fill="#3fcf5a" />
<rect x="1947.4" y="714.5" width="4.5" height="26.8" fill="#9ea3a7" />
<polygon points="1943.4,694.5 1956.4,688.5 1956.4,714.5 1943.4,720.5" fill="#23272c" />
<polygon points="1944.9,697.5 1954.9,692.5 1954.9,710.5 1944.9,715.5" fill="#3f86d8" />
<polygon points="1944.9,707.5 1954.9,702.5 1954.9,710.5 1944.9,715.5" fill="#2a62b0" />
<polygon points="1880.6,720.0 1905.6,734.5 1905.6,877.5 1880.6,863.0" fill="#77726f" />
<polygon points="1930.6,720.0 1905.6,734.5 1905.6,877.5 1930.6,863.0" fill="#8c8c8c" />
<polygon points="1905.6,705.5 1930.6,720.0 1905.6,734.5 1880.6,720.0" fill="#b3adab" />
<g aria-label="材料管理">
<rect x="969.4" y="106.0" width="194.6" height="60.5" fill="#252827" rx="11" ry="11" clip-path="url(#outclip)"/>
<rect x="969.4" y="106.0" width="194.6" height="60.5" fill="#2f2b28" rx="11" ry="11" clip-path="url(#siteclip)" fill-opacity="0.88"/>
<text x="1066.7" y="146.5" text-anchor="middle" font-size="27" font-weight="300" fill="#f3efea" style="font-family:'Liberation Sans','Noto Sans CJK SC',sans-serif">材料管理</text>
</g>
<g aria-label="塔吊监测">
<rect x="710.0" y="266.0" width="195.0" height="61.0" fill="#252827" rx="11" ry="11" clip-path="url(#outclip)"/>
<rect x="710.0" y="266.0" width="195.0" height="61.0" fill="#2f2b28" rx="11" ry="11" clip-path="url(#siteclip)" fill-opacity="0.88"/>
<text x="807.5" y="306.8" text-anchor="middle" font-size="27" font-weight="300" fill="#f3efea" style="font-family:'Liberation Sans','Noto Sans CJK SC',sans-serif">塔吊监测</text>
</g>
<g aria-label="升降机监测">
<rect x="364.0" y="308.0" width="195.0" height="59.7" fill="#252827" rx="11" ry="11" clip-path="url(#outclip)"/>
<rect x="364.0" y="308.0" width="195.0" height="59.7" fill="#2f2b28" rx="11" ry="11" clip-path="url(#siteclip)" fill-opacity="0.88"/>
<text x="461.5" y="348.1" text-anchor="middle" font-size="27" font-weight="300" fill="#f3efea" style="font-family:'Liberation Sans','Noto Sans CJK SC',sans-serif">升降机监测</text>
</g>
<g aria-label="高支模监测">
<rect x="694.8" y="381.8" width="194.2" height="60.5" fill="#252827" rx="11" ry="11" clip-path="url(#outclip)"/>
<rect x="694.8" y="381.8" width="194.2" height="60.5" fill="#2f2b28" rx="11" ry="11" clip-path="url(#siteclip)" fill-opacity="0.88"/>
<text x="791.9" y="422.3" text-anchor="middle" font-size="27" font-weight="300" fill="#f3efea" style="font-family:'Liberation Sans','Noto Sans CJK SC',sans-serif">高支模监测</text>
</g>
<g aria-label="物料登记">
<rect x="1344.3" y="338.7" width="195.2" height="60.0" fill="#252827" rx="11" ry="11" clip-path="url(#outclip)"/>
<rect x="1344.3" y="338.7" width="195.2" height="60.0" fill="#2f2b28" rx="11" ry="11" clip-path="url(#siteclip)" fill-opacity="0.88"/>
<text x="1441.9" y="379.0" text-anchor="middle" font-size="27" font-weight="300" fill="#f3efea" style="font-family:'Liberation Sans','Noto Sans CJK SC',sans-serif">物料登记</text>
</g>
<g aria-label="远程视频监控">
<rect x="1864.0" y="368.0" width="194.6" height="61.7" fill="#252827" rx="11" ry="11" clip-path="url(#outclip)"/>
<rect x="1864.0" y="368.0" width="194.6" height="61.7" fill="#2f2b28" rx="11" ry="11" clip-path="url(#siteclip)" fill-opacity="0.88"/>
<text x="1961.3" y="409.1" text-anchor="middle" font-size="27" font-weight="300" fill="#f3efea" style="font-family:'Liberation Sans','Noto Sans CJK SC',sans-serif">远程视频监控</text>
</g>
<g aria-label="智能指挥中心">
<rect x="1596.0" y="429.0" width="194.4" height="60.4" fill="#252827" rx="11" ry="11" clip-path="url(#outclip)"/>
<rect x="1596.0" y="429.0" width="194.4" height="60.4" fill="#2f2b28" rx="11" ry="11" clip-path="url(#siteclip)" fill-opacity="0.88"/>
<text x="1693.2" y="469.5" text-anchor="middle" font-size="27" font-weight="300" fill="#f3efea" style="font-family:'Liberation Sans','Noto Sans CJK SC',sans-serif">智能指挥中心</text>
</g>
<g aria-label="VR/AR安全馆">
<rect x="1680.0" y="524.0" width="210.4" height="60.6" fill="#252827" rx="11" ry="11" clip-path="url(#outclip)"/>
<rect x="1680.0" y="524.0" width="210.4" height="60.6" fill="#2f2b28" rx="11" ry="11" clip-path="url(#siteclip)" fill-opacity="0.88"/>
<text x="1785.2" y="564.6" text-anchor="middle" font-size="27" font-weight="300" fill="#f3efea" style="font-family:'Liberation Sans','Noto Sans CJK SC',sans-serif">VR/AR安全馆</text>
</g>
<g aria-label="卸料平台监测">
<rect x="885.7" y="530.0" width="192.7" height="60.4" fill="#252827" rx="11" ry="11" clip-path="url(#outclip)"/>
<rect x="885.7" y="530.0" width="192.7" height="60.4" fill="#2f2b28" rx="11" ry="11" clip-path="url(#siteclip)" fill-opacity="0.88"/>
<text x="982.1" y="570.5" text-anchor="middle" font-size="27" font-weight="300" fill="#f3efea" style="font-family:'Liberation Sans','Noto Sans CJK SC',sans-serif">卸料平台监测</text>
</g>
<g aria-label="吊钩可视化">
<rect x="710.0" y="604.0" width="194.6" height="59.4" fill="#252827" rx="11" ry="11" clip-path="url(#outclip)"/>
<rect x="710.0" y="604.0" width="194.6" height="59.4" fill="#2f2b28" rx="11" ry="11" clip-path="url(#siteclip)" fill-opacity="0.88"/>
<text x="807.3" y="644.0" text-anchor="middle" font-size="27" font-weight="300" fill="#f3efea" style="font-family:'Liberation Sans','Noto Sans CJK SC',sans-serif">吊钩可视化</text>
</g>
<g aria-label="AI视频">
<rect x="229.0" y="627.0" width="193.5" height="59.8" fill="#252827" rx="11" ry="11" clip-path="url(#outclip)"/>
<rect x="229.0" y="627.0" width="193.5" height="59.8" fill="#2f2b28" rx="11" ry="11" clip-path="url(#siteclip)" fill-opacity="0.88"/>
<text x="325.8" y="667.2" text-anchor="middle" font-size="27" font-weight="300" fill="#f3efea" style="font-family:'Liberation Sans','Noto Sans CJK SC',sans-serif">AI视频</text>
</g>
<g aria-label="质量管理">
<rect x="1185.0" y="620.0" width="193.3" height="59.8" fill="#252827" rx="11" ry="11" clip-path="url(#outclip)"/>
<rect x="1185.0" y="620.0" width="193.3" height="59.8" fill="#2f2b28" rx="11" ry="11" clip-path="url(#siteclip)" fill-opacity="0.88"/>
<text x="1281.7" y="660.2" text-anchor="middle" font-size="27" font-weight="300" fill="#f3efea" style="font-family:'Liberation Sans','Noto Sans CJK SC',sans-serif">质量管理</text>
</g>
<g aria-label="水电能耗监测">
<rect x="1591.8" y="760.0" width="198.0" height="60.0" fill="#252827" rx="11" ry="11" clip-path="url(#outclip)"/>
<rect x="1591.8" y="760.0" width="198.0" height="60.0" fill="#2f2b28" rx="11" ry="11" clip-path="url(#siteclip)" fill-opacity="0.88"/>
<text x="1690.8" y="800.3" text-anchor="middle" font-size="27" font-weight="300" fill="#f3efea" style="font-family:'Liberation Sans','Noto Sans CJK SC',sans-serif">水电能耗监测</text>
</g>
<g aria-label="废水监测">
<rect x="1405.7" y="872.0" width="196.8" height="59.8" fill="#252827" rx="11" ry="11" clip-path="url(#outclip)"/>
<rect x="1405.7" y="872.0" width="196.8" height="59.8" fill="#2f2b28" rx="11" ry="11" clip-path="url(#siteclip)" fill-opacity="0.88"/>
<text x="1504.1" y="912.2" text-anchor="middle" font-size="27" font-weight="300" fill="#f3efea" style="font-family:'Liberation Sans','Noto Sans CJK SC',sans-serif">废水监测</text>
</g>
<g aria-label="人脸识别考勤设备">
<rect x="1770.0" y="872.0" width="259.0" height="60.0" fill="#252827" rx="11" ry="11" clip-path="url(#outclip)"/>
<rect x="1770.0" y="872.0" width="259.0" height="60.0" fill="#2f2b28" rx="11" ry="11" clip-path="url(#siteclip)" fill-opacity="0.88"/>
<text x="1899.5" y="912.3" text-anchor="middle" font-size="27" font-weight="300" fill="#f3efea" style="font-family:'Liberation Sans','Noto Sans CJK SC',sans-serif">人脸识别考勤设备</text>
</g>
<g aria-label="智能安全帽">
<rect x="1075.0" y="829.0" width="194.0" height="59.7" fill="#252827" rx="11" ry="11" clip-path="url(#outclip)"/>
<rect x="1075.0" y="829.0" width="194.0" height="59.7" fill="#2f2b28" rx="11" ry="11" clip-path="url(#siteclip)" fill-opacity="0.88"/>
<text x="1172.0" y="869.1" text-anchor="middle" font-size="27" font-weight="300" fill="#f3efea" style="font-family:'Liberation Sans','Noto Sans CJK SC',sans-serif">智能安全帽</text>
</g>
<g aria-label="车牌识别摄像头">
<rect x="707.0" y="919.0" width="270.7" height="60.3" fill="#252827" rx="11" ry="11" clip-path="url(#outclip)"/>
<rect x="707.0" y="919.0" width="270.7" height="60.3" fill="#2f2b28" rx="11" ry="11" clip-path="url(#siteclip)" fill-opacity="0.88"/>
<text x="842.4" y="959.4" text-anchor="middle" font-size="27" font-weight="300" fill="#f3efea" style="font-family:'Liberation Sans','Noto Sans CJK SC',sans-serif">车牌识别摄像头</text>
</g>
<g aria-label="环境监测">
<rect x="976.3" y="992.0" width="197.2" height="60.0" fill="#252827" rx="11" ry="11" clip-path="url(#outclip)"/>
<rect x="976.3" y="992.0" width="197.2" height="60.0" fill="#2f2b28" rx="11" ry="11" clip-path="url(#siteclip)" fill-opacity="0.88"/>
<text x="1074.9" y="1032.3" text-anchor="middle" font-size="27" font-weight="300" fill="#f3efea" style="font-family:'Liberation Sans','Noto Sans CJK SC',sans-serif">环境监测</text>
</g>
<g aria-label="炮雾机降尘">
<rect x="1274.8" y="1118.0" width="197.2" height="60.0" fill="#252827" rx="11" ry="11" clip-path="url(#outclip)"/>
<rect x="1274.8" y="1118.0" width="197.2" height="60.0" fill="#2f2b28" rx="11" ry="11" clip-path="url(#siteclip)" fill-opacity="0.88"/>
<text x="1373.4" y="1158.3" text-anchor="middle" font-size="27" font-weight="300" fill="#f3efea" style="font-family:'Liberation Sans','Noto Sans CJK SC',sans-serif">炮雾机降尘</text>
</g>
<g aria-label="车辆进出智能门闸">
<rect x="922.3" y="1204.4" width="279.6" height="61.2" fill="#252827" rx="11" ry="11" clip-path="url(#outclip)"/>
<rect x="922.3" y="1204.4" width="279.6" height="61.2" fill="#2f2b28" rx="11" ry="11" clip-path="url(#siteclip)" fill-opacity="0.88"/>
<text x="1062.1" y="1245.3" text-anchor="middle" font-size="27" font-weight="300" fill="#f3efea" style="font-family:'Liberation Sans','Noto Sans CJK SC',sans-serif">车辆进出智能门闸</text>
</g>
<line x1="1066.8" y1="163.7" x2="987.6" y2="277.0" stroke="#222222" stroke-width="2.6" stroke-dasharray="9 4.5"/>
<circle cx="987.6" cy="277.0" r="2.6" fill="#222222" />
<circle cx="1066.8" cy="163.7" r="4.6" fill="#d9211c" />
<line x1="807.0" y1="323.0" x2="887.0" y2="369.7" stroke="#222222" stroke-width="2.6" stroke-dasharray="9 4.5"/>
<circle cx="887.0" cy="369.7" r="2.6" fill="#222222" />
<circle cx="807.0" cy="323.0" r="4.6" fill="#d9211c" />
<line x1="461.7" y1="364.7" x2="541.5" y2="410.8" stroke="#222222" stroke-width="2.6" stroke-dasharray="9 4.5"/>
<circle cx="541.5" cy="410.8" r="2.6" fill="#222222" />
<circle cx="461.7" cy="364.7" r="4.6" fill="#d9211c" />
<line x1="793.8" y1="439.0" x2="958.8" y2="509.5" stroke="#222222" stroke-width="2.6" stroke-dasharray="9 4.5"/>
<circle cx="958.8" cy="509.5" r="2.6" fill="#222222" />
<circle cx="793.8" cy="439.0" r="4.6" fill="#d9211c" />
<line x1="1441.3" y1="396.0" x2="1373.3" y2="498.0" stroke="#222222" stroke-width="2.6" stroke-dasharray="9 4.5"/>
<circle cx="1373.3" cy="498.0" r="2.6" fill="#222222" />
<circle cx="1441.3" cy="396.0" r="4.6" fill="#d9211c" />
<line x1="1961.7" y1="426.7" x2="2050.8" y2="528.7" stroke="#222222" stroke-width="2.6" stroke-dasharray="9 4.5"/>
<circle cx="2050.8" cy="528.7" r="2.6" fill="#222222" />
<circle cx="1961.7" cy="426.7" r="4.6" fill="#d9211c" />
<line x1="1693.0" y1="486.4" x2="1615.8" y2="601.6" stroke="#222222" stroke-width="2.6" stroke-dasharray="9 4.5"/>
<circle cx="1615.8" cy="601.6" r="2.6" fill="#222222" />
<circle cx="1693.0" cy="486.4" r="4.6" fill="#d9211c" />
<line x1="1784.8" y1="581.6" x2="1705.0" y2="696.0" stroke="#222222" stroke-width="2.6" stroke-dasharray="9 4.5"/>
<circle cx="1705.0" cy="696.0" r="2.6" fill="#222222" />
<circle cx="1784.8" cy="581.6" r="4.6" fill="#d9211c" />
<line x1="981.5" y1="587.9" x2="1145.0" y2="657.9" stroke="#222222" stroke-width="2.6" stroke-dasharray="9 4.5"/>
<circle cx="1145.0" cy="657.9" r="2.6" fill="#222222" />
<circle cx="981.5" cy="587.9" r="4.6" fill="#d9211c" />
<line x1="807.7" y1="603.0" x2="748.5" y2="543.0" stroke="#222222" stroke-width="2.6" stroke-dasharray="9 4.5"/>
<circle cx="748.5" cy="543.0" r="2.6" fill="#222222" />
<circle cx="807.7" cy="603.0" r="4.6" fill="#d9211c" />
<line x1="325.3" y1="627.0" x2="228.7" y2="520.8" stroke="#222222" stroke-width="2.6" stroke-dasharray="9 4.5"/>
<circle cx="228.7" cy="520.8" r="2.6" fill="#222222" />
<circle cx="325.3" cy="627.0" r="4.6" fill="#d9211c" />
<line x1="1281.4" y1="677.3" x2="1193.0" y2="734.0" stroke="#222222" stroke-width="2.6" stroke-dasharray="9 4.5"/>
<circle cx="1193.0" cy="734.0" r="2.6" fill="#222222" />
<circle cx="1281.4" cy="677.3" r="4.6" fill="#d9211c" />
<line x1="1690.5" y1="760.6" x2="1635.0" y2="696.0" stroke="#222222" stroke-width="2.6" stroke-dasharray="9 4.5"/>
<circle cx="1635.0" cy="696.0" r="2.6" fill="#222222" />
<circle cx="1690.5" cy="760.6" r="4.6" fill="#d9211c" />
<line x1="1503.7" y1="871.8" x2="1570.0" y2="790.4" stroke="#222222" stroke-width="2.6" stroke-dasharray="9 4.5"/>
<circle cx="1570.0" cy="790.4" r="2.6" fill="#222222" />
<circle cx="1503.7" cy="871.8" r="4.6" fill="#d9211c" />
<line x1="1899.7" y1="872.0" x2="1950.8" y2="699.8" stroke="#222222" stroke-width="2.6" stroke-dasharray="9 4.5"/>
<circle cx="1950.8" cy="699.8" r="2.6" fill="#222222" />
<circle cx="1899.7" cy="872.0" r="4.6" fill="#d9211c" />
<line x1="1172.0" y1="886.4" x2="1251.6" y2="932.0" stroke="#222222" stroke-width="2.6" stroke-dasharray="9 4.5"/>
<circle cx="1251.6" cy="932.0" r="2.6" fill="#222222" />
<circle cx="1172.0" cy="886.4" r="4.6" fill="#d9211c" />
<line x1="841.0" y1="976.3" x2="919.7" y2="1037.0" stroke="#222222" stroke-width="2.6" stroke-dasharray="9 4.5"/>
<circle cx="919.7" cy="1037.0" r="2.6" fill="#222222" />
<circle cx="841.0" cy="976.3" r="4.6" fill="#d9211c" />
<line x1="1075.0" y1="1052.0" x2="1196.7" y2="1117.4" stroke="#222222" stroke-width="2.6" stroke-dasharray="9 4.5"/>
<circle cx="1196.7" cy="1117.4" r="2.6" fill="#222222" />
<circle cx="1075.0" cy="1052.0" r="4.6" fill="#d9211c" />
<line x1="1373.8" y1="1117.4" x2="1271.7" y2="1078.3" stroke="#222222" stroke-width="2.6" stroke-dasharray="9 4.5"/>
<circle cx="1271.7" cy="1078.3" r="2.6" fill="#222222" />
<circle cx="1373.8" cy="1117.4" r="4.6" fill="#d9211c" />
<line x1="1061.9" y1="1205.0" x2="1075.0" y2="1133.0" stroke="#222222" stroke-width="2.6" stroke-dasharray="9 4.5"/>
<circle cx="1075.0" cy="1133.0" r="2.6" fill="#222222" />
<circle cx="1061.9" cy="1205.0" r="4.6" fill="#d9211c" />
</svg>
</body></html>
